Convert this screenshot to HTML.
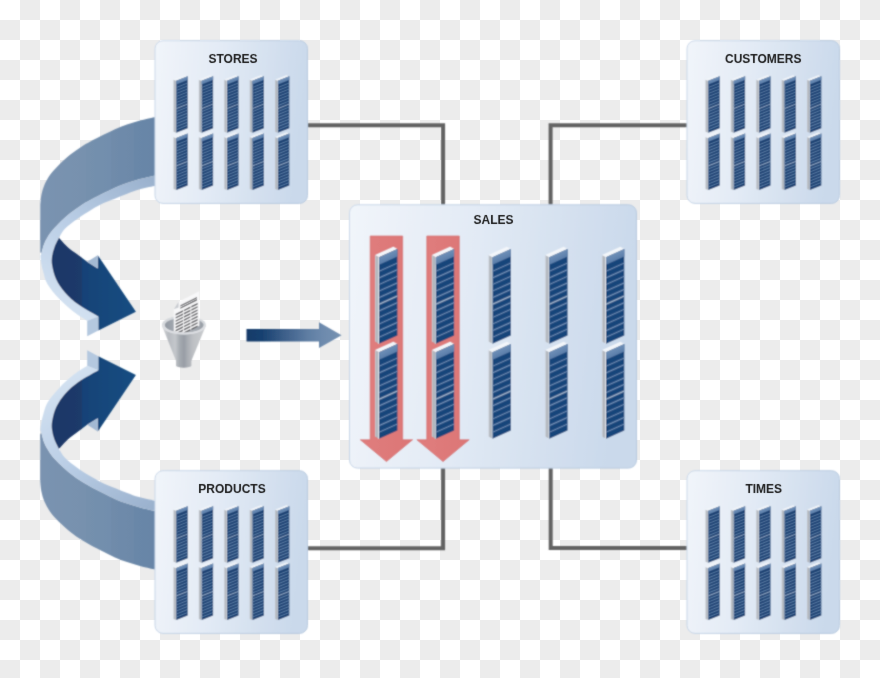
<!DOCTYPE html>
<html><head><meta charset="utf-8"><style>
html,body{margin:0;padding:0;background:#fff;overflow:hidden;}
svg{display:block;}
.lb{font-family:"Liberation Sans",sans-serif;font-weight:bold;font-size:12px;fill:#1a1a1a;}
</style></head><body>
<svg width="880" height="678" viewBox="0 0 880 678">
<defs>
<pattern id="chk" width="40" height="40" patternUnits="userSpaceOnUse">
<rect width="40" height="40" fill="#ffffff"/><rect x="20" y="0" width="20" height="20" fill="#ececec"/><rect x="0" y="20" width="20" height="20" fill="#ececec"/>
</pattern>
<linearGradient id="gBox" x1="0" y1="0" x2="1" y2="0.12"><stop offset="0" stop-color="#f1f5fa"/><stop offset="0.45" stop-color="#e2eaf5"/><stop offset="1" stop-color="#cad9eb"/></linearGradient>
<linearGradient id="gBoxS" x1="0" y1="0" x2="1" y2="0.3"><stop offset="0" stop-color="#cbd9ea"/><stop offset="1" stop-color="#b8cadf"/></linearGradient>
<linearGradient id="gRed" x1="0" y1="0" x2="1" y2="0"><stop offset="0" stop-color="#e07d7d"/><stop offset="1" stop-color="#dc7676"/></linearGradient>
<linearGradient id="gOuter" gradientUnits="userSpaceOnUse" x1="40" y1="0" x2="155" y2="0"><stop offset="0" stop-color="#7a93b0"/><stop offset="0.4035" stop-color="#7791ae"/><stop offset="0.4035" stop-color="#7490ad"/><stop offset="0.617" stop-color="#728ead"/><stop offset="0.617" stop-color="#6f8baa"/><stop offset="0.818" stop-color="#6d89a9"/><stop offset="0.818" stop-color="#6987a8"/><stop offset="1" stop-color="#6785a7"/></linearGradient>
<linearGradient id="gStrip" gradientUnits="userSpaceOnUse" x1="150" y1="180" x2="70" y2="310"><stop offset="0" stop-color="#9bb2ce"/><stop offset="0.5" stop-color="#b9cde5"/><stop offset="1" stop-color="#d2e1f1"/></linearGradient>
<linearGradient id="gDark" gradientUnits="userSpaceOnUse" x1="52" y1="0" x2="136" y2="0"><stop offset="0" stop-color="#1c3767"/><stop offset="0.355" stop-color="#1b3a6a"/><stop offset="0.36" stop-color="#134277"/><stop offset="0.7" stop-color="#13487c"/><stop offset="1" stop-color="#154d82"/></linearGradient>
<linearGradient id="gArrow" gradientUnits="userSpaceOnUse" x1="246" y1="0" x2="342" y2="0"><stop offset="0" stop-color="#163a69"/><stop offset="0.17" stop-color="#184170"/><stop offset="0.4" stop-color="#3d5f8a"/><stop offset="0.65" stop-color="#5f7ea3"/><stop offset="0.8" stop-color="#6d8aad"/><stop offset="1" stop-color="#7793b2"/></linearGradient>
<linearGradient id="gSide" x1="0" y1="0" x2="1" y2="0"><stop offset="0" stop-color="#c9cdd3"/><stop offset="0.45" stop-color="#aeb3ba"/><stop offset="1" stop-color="#a3a8b0"/></linearGradient>
<linearGradient id="gFun" gradientUnits="userSpaceOnUse" x1="162" y1="0" x2="206" y2="0"><stop offset="0" stop-color="#d3d5d8"/><stop offset="0.15" stop-color="#b7bbc0"/><stop offset="0.3" stop-color="#c4c7cb"/><stop offset="0.4" stop-color="#a6abb1"/><stop offset="0.5" stop-color="#989da5"/><stop offset="0.58" stop-color="#a9adb3"/><stop offset="0.7" stop-color="#bdc0c4"/><stop offset="1" stop-color="#cbcdd0"/></linearGradient>
<linearGradient id="gFunIn" gradientUnits="userSpaceOnUse" x1="165" y1="0" x2="204" y2="0"><stop offset="0" stop-color="#9299a2"/><stop offset="0.5" stop-color="#b4b8be"/><stop offset="1" stop-color="#979da5"/></linearGradient>
<filter id="soft" x="0" y="0" width="880" height="678" filterUnits="userSpaceOnUse"><feConvolveMatrix order="3" kernelMatrix="1 2 1 2 8 2 1 2 1" divisor="20" edgeMode="duplicate" preserveAlpha="false"/></filter>
<filter id="txt" x="0" y="0" width="880" height="678" filterUnits="userSpaceOnUse"><feConvolveMatrix order="3" kernelMatrix="0 1 0 1 16 1 0 1 0" divisor="20" edgeMode="none" preserveAlpha="false"/></filter>
<clipPath id="paperClip"><rect x="150" y="280" width="70" height="45.2"/><ellipse cx="184.2" cy="325.2" rx="19.4" ry="7.4"/></clipPath>

<linearGradient id="gCapL" x1="0" y1="0.5234" x2="0.1958" y2="0.8975"><stop offset="0" stop-color="#6f90b8"/><stop offset="1" stop-color="#5a7da9"/></linearGradient><linearGradient id="gCapS" x1="0" y1="0.5455" x2="0.1911" y2="0.8958"><stop offset="0" stop-color="#6f90b8"/><stop offset="1" stop-color="#5a7da9"/></linearGradient>
<g id="upArrow"><path d="M172.00 113.60 C170.00 113.98 163.00 115.28 160.00 115.90 C157.00 116.52 157.33 116.52 154.00 117.30 C150.67 118.08 144.50 119.38 140.00 120.60 C135.50 121.82 131.17 123.17 127.00 124.60 C122.83 126.03 118.83 127.53 115.00 129.20 C111.17 130.87 107.50 132.87 104.00 134.60 C100.50 136.33 97.63 137.65 94.00 139.60 C90.37 141.55 86.13 143.80 82.20 146.30 C78.27 148.80 74.33 151.45 70.40 154.60 C66.47 157.75 61.95 161.87 58.60 165.20 C55.25 168.53 52.67 171.30 50.30 174.60 C47.93 177.90 45.90 181.52 44.40 185.00 C42.90 188.48 42.00 192.17 41.30 195.50 C40.60 198.83 40.38 203.42 40.20 205.00 L40.2 252 L41.30 254.00 C41.82 252.25 42.90 246.98 44.40 243.50 C45.90 240.02 47.93 236.40 50.30 233.10 C52.67 229.80 55.25 227.03 58.60 223.70 C61.95 220.37 66.47 216.25 70.40 213.10 C74.33 209.95 78.27 207.30 82.20 204.80 C86.13 202.30 90.37 200.05 94.00 198.10 C97.63 196.15 100.50 194.83 104.00 193.10 C107.50 191.37 111.17 189.37 115.00 187.70 C118.83 186.03 122.83 184.53 127.00 183.10 C131.17 181.67 135.50 180.32 140.00 179.10 C144.50 177.88 150.67 176.58 154.00 175.80 C157.33 175.02 157.00 175.02 160.00 174.40 C163.00 173.78 170.00 172.48 172.00 172.10 Z" fill="url(#gOuter)"/>
<path d="M172.00 172.10 C170.00 172.48 163.00 173.78 160.00 174.40 C157.00 175.02 157.33 175.02 154.00 175.80 C150.67 176.58 144.50 177.88 140.00 179.10 C135.50 180.32 131.17 181.67 127.00 183.10 C122.83 184.53 118.83 186.03 115.00 187.70 C111.17 189.37 107.50 191.37 104.00 193.10 C100.50 194.83 97.63 196.15 94.00 198.10 C90.37 200.05 86.13 202.30 82.20 204.80 C78.27 207.30 74.33 209.95 70.40 213.10 C66.47 216.25 61.95 220.37 58.60 223.70 C55.25 227.03 52.67 229.80 50.30 233.10 C47.93 236.40 45.90 240.02 44.40 243.50 C42.90 246.98 41.97 251.92 41.30 254.00 C40.63 256.08 40.42 254.50 40.40 256.00 C40.38 257.50 40.77 260.50 41.20 263.00 C41.63 265.50 41.97 267.52 43.00 271.00 C44.03 274.48 44.70 279.28 47.40 283.90 C50.10 288.52 54.78 294.02 59.20 298.70 C63.62 303.38 69.23 308.32 73.90 312.00 C78.57 315.68 84.98 319.33 87.20 320.80 L98.3 316.4 C94.97 314.43 83.83 308.53 78.30 304.60 C72.77 300.67 68.78 296.98 65.10 292.80 C61.42 288.62 58.35 283.97 56.20 279.50 C54.05 275.03 52.90 269.82 52.20 266.00 C51.50 262.18 51.63 259.73 52.00 256.60 C52.37 253.47 53.25 250.33 54.40 247.20 C55.55 244.07 57.07 240.95 58.90 237.80 C60.73 234.65 62.35 231.45 65.40 228.30 C68.45 225.15 72.80 222.03 77.20 218.90 C81.60 215.77 87.40 212.13 91.80 209.50 C96.20 206.87 99.67 204.95 103.60 203.10 C107.53 201.25 111.47 199.97 115.40 198.40 C119.33 196.83 123.27 195.18 127.20 193.70 C131.13 192.22 134.48 190.78 139.00 189.50 C143.52 188.22 150.80 186.78 154.30 186.00 C157.80 185.22 157.05 185.47 160.00 184.80 C162.95 184.13 170.00 182.47 172.00 182.00 Z" fill="url(#gStrip)"/>
<path d="M58.90 237.80 C60.38 239.37 64.75 244.45 67.80 247.20 C70.85 249.95 73.97 251.87 77.20 254.30 C80.43 256.73 85.53 260.55 87.20 261.80 L97.8 268.4 L97.8 255.2 L135.9 311.7 L98.3 330.4 L98.3 316.4 C94.97 314.43 83.83 308.53 78.30 304.60 C72.77 300.67 68.78 296.98 65.10 292.80 C61.42 288.62 58.35 283.97 56.20 279.50 C54.05 275.03 52.90 269.82 52.20 266.00 C51.50 262.18 51.63 259.73 52.00 256.60 C52.37 253.47 53.25 250.33 54.40 247.20 C55.55 244.07 58.15 239.37 58.90 237.80 Z" fill="url(#gDark)"/>
<path d="M87.2 261.8 L97.8 255.2 L97.8 268.4 Z" fill="#a3b9d3"/>
<path d="M87.2 320.8 L98.3 316.4 L98.3 330.4 L87.2 336.3 Z" fill="#b4c8df"/></g>
</defs>
<rect width="880" height="678" fill="url(#chk)"/>
<g filter="url(#soft)">
<path d="M300 125.3 H443.1 V210" fill="none" stroke="#636363" stroke-width="4"/>
<path d="M690 125.3 H550.6 V210" fill="none" stroke="#636363" stroke-width="4"/>
<path d="M300 548.3 H443.1 V460" fill="none" stroke="#636363" stroke-width="4"/>
<path d="M690 548.1 H550.7 V460" fill="none" stroke="#636363" stroke-width="4"/>
<use href="#upArrow"/>
<use href="#upArrow" transform="translate(0 686.6) scale(1 -1)"/>
<rect x="155.00" y="40.70" width="152.50" height="162.70" rx="8" ry="8" fill="url(#gBox)" stroke="url(#gBoxS)" stroke-width="1"/>
<path d="M176.30 80.70 L173.40 79.70 L173.40 131.70 L176.30 132.70 Z" fill="url(#gSide)"/>
<path d="M176.30 80.70 L187.70 76.14 L184.80 75.14 L173.40 79.70 Z" fill="#f3f6fa"/>
<rect x="175.70" y="80.70" width="0.60" height="52.00" fill="#eef2f7"/>
<path d="M176.30 80.70 L187.70 76.14 L187.70 128.14 L176.30 132.70 Z" fill="#173d6f"/>
<path d="M176.30 80.70 L187.70 76.14 L187.70 79.94 L176.30 84.50 Z" fill="url(#gCapS)"/>
<path d="M176.30 86.96 L187.70 82.40 L187.70 83.50 L176.30 88.06 Z M176.30 89.97 L187.70 85.41 L187.70 86.52 L176.30 91.08 Z M176.30 92.99 L187.70 88.43 L187.70 89.53 L176.30 94.09 Z M176.30 96.00 L187.70 91.44 L187.70 92.54 L176.30 97.10 Z M176.30 99.01 L187.70 94.45 L187.70 95.55 L176.30 100.11 Z M176.30 102.03 L187.70 97.47 L187.70 98.56 L176.30 103.12 Z M176.30 105.04 L187.70 100.48 L187.70 101.58 L176.30 106.14 Z M176.30 111.06 L187.70 106.50 L187.70 107.60 L176.30 112.16 Z M176.30 114.08 L187.70 109.52 L187.70 110.61 L176.30 115.17 Z M176.30 117.09 L187.70 112.53 L187.70 113.63 L176.30 118.19 Z M176.30 120.10 L187.70 115.54 L187.70 116.64 L176.30 121.20 Z M176.30 123.11 L187.70 118.55 L187.70 119.65 L176.30 124.21 Z M176.30 126.12 L187.70 121.56 L187.70 122.66 L176.30 127.22 Z M176.30 129.14 L187.70 124.58 L187.70 125.68 L176.30 130.24 Z" fill="#5e80a8"/>
<path d="M176.30 108.05 L187.70 103.49 L187.70 104.59 L176.30 109.15 Z" fill="#8ea5c2"/>
<path d="M176.30 138.00 L173.40 137.00 L173.40 189.00 L176.30 190.00 Z" fill="url(#gSide)"/>
<path d="M176.30 138.00 L187.70 133.44 L184.80 132.44 L173.40 137.00 Z" fill="#f3f6fa"/>
<rect x="175.70" y="138.00" width="0.60" height="52.00" fill="#eef2f7"/>
<path d="M176.30 138.00 L187.70 133.44 L187.70 185.44 L176.30 190.00 Z" fill="#173d6f"/>
<path d="M176.30 138.00 L187.70 133.44 L187.70 137.24 L176.30 141.80 Z" fill="url(#gCapS)"/>
<path d="M176.30 144.26 L187.70 139.70 L187.70 140.80 L176.30 145.36 Z M176.30 147.28 L187.70 142.72 L187.70 143.81 L176.30 148.38 Z M176.30 150.29 L187.70 145.73 L187.70 146.83 L176.30 151.39 Z M176.30 153.30 L187.70 148.74 L187.70 149.84 L176.30 154.40 Z M176.30 156.31 L187.70 151.75 L187.70 152.85 L176.30 157.41 Z M176.30 159.32 L187.70 154.76 L187.70 155.87 L176.30 160.43 Z M176.30 162.34 L187.70 157.78 L187.70 158.88 L176.30 163.44 Z M176.30 168.36 L187.70 163.80 L187.70 164.90 L176.30 169.46 Z M176.30 171.38 L187.70 166.81 L187.70 167.91 L176.30 172.47 Z M176.30 174.39 L187.70 169.83 L187.70 170.93 L176.30 175.49 Z M176.30 177.40 L187.70 172.84 L187.70 173.94 L176.30 178.50 Z M176.30 180.41 L187.70 175.85 L187.70 176.95 L176.30 181.51 Z M176.30 183.43 L187.70 178.87 L187.70 179.97 L176.30 184.53 Z M176.30 186.44 L187.70 181.88 L187.70 182.98 L176.30 187.54 Z" fill="#5e80a8"/>
<path d="M176.30 165.35 L187.70 160.79 L187.70 161.89 L176.30 166.45 Z" fill="#8ea5c2"/>
<path d="M201.70 80.70 L198.80 79.70 L198.80 131.70 L201.70 132.70 Z" fill="url(#gSide)"/>
<path d="M201.70 80.70 L213.10 76.14 L210.20 75.14 L198.80 79.70 Z" fill="#f3f6fa"/>
<rect x="201.10" y="80.70" width="0.60" height="52.00" fill="#eef2f7"/>
<path d="M201.70 80.70 L213.10 76.14 L213.10 128.14 L201.70 132.70 Z" fill="#173d6f"/>
<path d="M201.70 80.70 L213.10 76.14 L213.10 79.94 L201.70 84.50 Z" fill="url(#gCapS)"/>
<path d="M201.70 86.96 L213.10 82.40 L213.10 83.50 L201.70 88.06 Z M201.70 89.97 L213.10 85.41 L213.10 86.52 L201.70 91.08 Z M201.70 92.99 L213.10 88.43 L213.10 89.53 L201.70 94.09 Z M201.70 96.00 L213.10 91.44 L213.10 92.54 L201.70 97.10 Z M201.70 99.01 L213.10 94.45 L213.10 95.55 L201.70 100.11 Z M201.70 102.03 L213.10 97.47 L213.10 98.56 L201.70 103.12 Z M201.70 105.04 L213.10 100.48 L213.10 101.58 L201.70 106.14 Z M201.70 111.06 L213.10 106.50 L213.10 107.60 L201.70 112.16 Z M201.70 114.08 L213.10 109.52 L213.10 110.61 L201.70 115.17 Z M201.70 117.09 L213.10 112.53 L213.10 113.63 L201.70 118.19 Z M201.70 120.10 L213.10 115.54 L213.10 116.64 L201.70 121.20 Z M201.70 123.11 L213.10 118.55 L213.10 119.65 L201.70 124.21 Z M201.70 126.12 L213.10 121.56 L213.10 122.66 L201.70 127.22 Z M201.70 129.14 L213.10 124.58 L213.10 125.68 L201.70 130.24 Z" fill="#5e80a8"/>
<path d="M201.70 108.05 L213.10 103.49 L213.10 104.59 L201.70 109.15 Z" fill="#8ea5c2"/>
<path d="M201.70 138.00 L198.80 137.00 L198.80 189.00 L201.70 190.00 Z" fill="url(#gSide)"/>
<path d="M201.70 138.00 L213.10 133.44 L210.20 132.44 L198.80 137.00 Z" fill="#f3f6fa"/>
<rect x="201.10" y="138.00" width="0.60" height="52.00" fill="#eef2f7"/>
<path d="M201.70 138.00 L213.10 133.44 L213.10 185.44 L201.70 190.00 Z" fill="#173d6f"/>
<path d="M201.70 138.00 L213.10 133.44 L213.10 137.24 L201.70 141.80 Z" fill="url(#gCapS)"/>
<path d="M201.70 144.26 L213.10 139.70 L213.10 140.80 L201.70 145.36 Z M201.70 147.28 L213.10 142.72 L213.10 143.81 L201.70 148.38 Z M201.70 150.29 L213.10 145.73 L213.10 146.83 L201.70 151.39 Z M201.70 153.30 L213.10 148.74 L213.10 149.84 L201.70 154.40 Z M201.70 156.31 L213.10 151.75 L213.10 152.85 L201.70 157.41 Z M201.70 159.32 L213.10 154.76 L213.10 155.87 L201.70 160.43 Z M201.70 162.34 L213.10 157.78 L213.10 158.88 L201.70 163.44 Z M201.70 168.36 L213.10 163.80 L213.10 164.90 L201.70 169.46 Z M201.70 171.38 L213.10 166.81 L213.10 167.91 L201.70 172.47 Z M201.70 174.39 L213.10 169.83 L213.10 170.93 L201.70 175.49 Z M201.70 177.40 L213.10 172.84 L213.10 173.94 L201.70 178.50 Z M201.70 180.41 L213.10 175.85 L213.10 176.95 L201.70 181.51 Z M201.70 183.43 L213.10 178.87 L213.10 179.97 L201.70 184.53 Z M201.70 186.44 L213.10 181.88 L213.10 182.98 L201.70 187.54 Z" fill="#5e80a8"/>
<path d="M201.70 165.35 L213.10 160.79 L213.10 161.89 L201.70 166.45 Z" fill="#8ea5c2"/>
<path d="M227.10 80.70 L224.20 79.70 L224.20 131.70 L227.10 132.70 Z" fill="url(#gSide)"/>
<path d="M227.10 80.70 L238.50 76.14 L235.60 75.14 L224.20 79.70 Z" fill="#f3f6fa"/>
<rect x="226.50" y="80.70" width="0.60" height="52.00" fill="#eef2f7"/>
<path d="M227.10 80.70 L238.50 76.14 L238.50 128.14 L227.10 132.70 Z" fill="#173d6f"/>
<path d="M227.10 80.70 L238.50 76.14 L238.50 79.94 L227.10 84.50 Z" fill="url(#gCapS)"/>
<path d="M227.10 86.96 L238.50 82.40 L238.50 83.50 L227.10 88.06 Z M227.10 89.97 L238.50 85.41 L238.50 86.52 L227.10 91.08 Z M227.10 92.99 L238.50 88.43 L238.50 89.53 L227.10 94.09 Z M227.10 96.00 L238.50 91.44 L238.50 92.54 L227.10 97.10 Z M227.10 99.01 L238.50 94.45 L238.50 95.55 L227.10 100.11 Z M227.10 102.03 L238.50 97.47 L238.50 98.56 L227.10 103.12 Z M227.10 105.04 L238.50 100.48 L238.50 101.58 L227.10 106.14 Z M227.10 111.06 L238.50 106.50 L238.50 107.60 L227.10 112.16 Z M227.10 114.08 L238.50 109.52 L238.50 110.61 L227.10 115.17 Z M227.10 117.09 L238.50 112.53 L238.50 113.63 L227.10 118.19 Z M227.10 120.10 L238.50 115.54 L238.50 116.64 L227.10 121.20 Z M227.10 123.11 L238.50 118.55 L238.50 119.65 L227.10 124.21 Z M227.10 126.12 L238.50 121.56 L238.50 122.66 L227.10 127.22 Z M227.10 129.14 L238.50 124.58 L238.50 125.68 L227.10 130.24 Z" fill="#5e80a8"/>
<path d="M227.10 108.05 L238.50 103.49 L238.50 104.59 L227.10 109.15 Z" fill="#8ea5c2"/>
<path d="M227.10 138.00 L224.20 137.00 L224.20 189.00 L227.10 190.00 Z" fill="url(#gSide)"/>
<path d="M227.10 138.00 L238.50 133.44 L235.60 132.44 L224.20 137.00 Z" fill="#f3f6fa"/>
<rect x="226.50" y="138.00" width="0.60" height="52.00" fill="#eef2f7"/>
<path d="M227.10 138.00 L238.50 133.44 L238.50 185.44 L227.10 190.00 Z" fill="#173d6f"/>
<path d="M227.10 138.00 L238.50 133.44 L238.50 137.24 L227.10 141.80 Z" fill="url(#gCapS)"/>
<path d="M227.10 144.26 L238.50 139.70 L238.50 140.80 L227.10 145.36 Z M227.10 147.28 L238.50 142.72 L238.50 143.81 L227.10 148.38 Z M227.10 150.29 L238.50 145.73 L238.50 146.83 L227.10 151.39 Z M227.10 153.30 L238.50 148.74 L238.50 149.84 L227.10 154.40 Z M227.10 156.31 L238.50 151.75 L238.50 152.85 L227.10 157.41 Z M227.10 159.32 L238.50 154.76 L238.50 155.87 L227.10 160.43 Z M227.10 162.34 L238.50 157.78 L238.50 158.88 L227.10 163.44 Z M227.10 168.36 L238.50 163.80 L238.50 164.90 L227.10 169.46 Z M227.10 171.38 L238.50 166.81 L238.50 167.91 L227.10 172.47 Z M227.10 174.39 L238.50 169.83 L238.50 170.93 L227.10 175.49 Z M227.10 177.40 L238.50 172.84 L238.50 173.94 L227.10 178.50 Z M227.10 180.41 L238.50 175.85 L238.50 176.95 L227.10 181.51 Z M227.10 183.43 L238.50 178.87 L238.50 179.97 L227.10 184.53 Z M227.10 186.44 L238.50 181.88 L238.50 182.98 L227.10 187.54 Z" fill="#5e80a8"/>
<path d="M227.10 165.35 L238.50 160.79 L238.50 161.89 L227.10 166.45 Z" fill="#8ea5c2"/>
<path d="M252.50 80.70 L249.60 79.70 L249.60 131.70 L252.50 132.70 Z" fill="url(#gSide)"/>
<path d="M252.50 80.70 L263.90 76.14 L261.00 75.14 L249.60 79.70 Z" fill="#f3f6fa"/>
<rect x="251.90" y="80.70" width="0.60" height="52.00" fill="#eef2f7"/>
<path d="M252.50 80.70 L263.90 76.14 L263.90 128.14 L252.50 132.70 Z" fill="#173d6f"/>
<path d="M252.50 80.70 L263.90 76.14 L263.90 79.94 L252.50 84.50 Z" fill="url(#gCapS)"/>
<path d="M252.50 86.96 L263.90 82.40 L263.90 83.50 L252.50 88.06 Z M252.50 89.97 L263.90 85.41 L263.90 86.52 L252.50 91.08 Z M252.50 92.99 L263.90 88.43 L263.90 89.53 L252.50 94.09 Z M252.50 96.00 L263.90 91.44 L263.90 92.54 L252.50 97.10 Z M252.50 99.01 L263.90 94.45 L263.90 95.55 L252.50 100.11 Z M252.50 102.03 L263.90 97.47 L263.90 98.56 L252.50 103.12 Z M252.50 105.04 L263.90 100.48 L263.90 101.58 L252.50 106.14 Z M252.50 111.06 L263.90 106.50 L263.90 107.60 L252.50 112.16 Z M252.50 114.08 L263.90 109.52 L263.90 110.61 L252.50 115.17 Z M252.50 117.09 L263.90 112.53 L263.90 113.63 L252.50 118.19 Z M252.50 120.10 L263.90 115.54 L263.90 116.64 L252.50 121.20 Z M252.50 123.11 L263.90 118.55 L263.90 119.65 L252.50 124.21 Z M252.50 126.12 L263.90 121.56 L263.90 122.66 L252.50 127.22 Z M252.50 129.14 L263.90 124.58 L263.90 125.68 L252.50 130.24 Z" fill="#5e80a8"/>
<path d="M252.50 108.05 L263.90 103.49 L263.90 104.59 L252.50 109.15 Z" fill="#8ea5c2"/>
<path d="M252.50 138.00 L249.60 137.00 L249.60 189.00 L252.50 190.00 Z" fill="url(#gSide)"/>
<path d="M252.50 138.00 L263.90 133.44 L261.00 132.44 L249.60 137.00 Z" fill="#f3f6fa"/>
<rect x="251.90" y="138.00" width="0.60" height="52.00" fill="#eef2f7"/>
<path d="M252.50 138.00 L263.90 133.44 L263.90 185.44 L252.50 190.00 Z" fill="#173d6f"/>
<path d="M252.50 138.00 L263.90 133.44 L263.90 137.24 L252.50 141.80 Z" fill="url(#gCapS)"/>
<path d="M252.50 144.26 L263.90 139.70 L263.90 140.80 L252.50 145.36 Z M252.50 147.28 L263.90 142.72 L263.90 143.81 L252.50 148.38 Z M252.50 150.29 L263.90 145.73 L263.90 146.83 L252.50 151.39 Z M252.50 153.30 L263.90 148.74 L263.90 149.84 L252.50 154.40 Z M252.50 156.31 L263.90 151.75 L263.90 152.85 L252.50 157.41 Z M252.50 159.32 L263.90 154.76 L263.90 155.87 L252.50 160.43 Z M252.50 162.34 L263.90 157.78 L263.90 158.88 L252.50 163.44 Z M252.50 168.36 L263.90 163.80 L263.90 164.90 L252.50 169.46 Z M252.50 171.38 L263.90 166.81 L263.90 167.91 L252.50 172.47 Z M252.50 174.39 L263.90 169.83 L263.90 170.93 L252.50 175.49 Z M252.50 177.40 L263.90 172.84 L263.90 173.94 L252.50 178.50 Z M252.50 180.41 L263.90 175.85 L263.90 176.95 L252.50 181.51 Z M252.50 183.43 L263.90 178.87 L263.90 179.97 L252.50 184.53 Z M252.50 186.44 L263.90 181.88 L263.90 182.98 L252.50 187.54 Z" fill="#5e80a8"/>
<path d="M252.50 165.35 L263.90 160.79 L263.90 161.89 L252.50 166.45 Z" fill="#8ea5c2"/>
<path d="M277.90 80.70 L275.00 79.70 L275.00 131.70 L277.90 132.70 Z" fill="url(#gSide)"/>
<path d="M277.90 80.70 L289.30 76.14 L286.40 75.14 L275.00 79.70 Z" fill="#f3f6fa"/>
<rect x="277.30" y="80.70" width="0.60" height="52.00" fill="#eef2f7"/>
<path d="M277.90 80.70 L289.30 76.14 L289.30 128.14 L277.90 132.70 Z" fill="#173d6f"/>
<path d="M277.90 80.70 L289.30 76.14 L289.30 79.94 L277.90 84.50 Z" fill="url(#gCapS)"/>
<path d="M277.90 86.96 L289.30 82.40 L289.30 83.50 L277.90 88.06 Z M277.90 89.97 L289.30 85.41 L289.30 86.52 L277.90 91.08 Z M277.90 92.99 L289.30 88.43 L289.30 89.53 L277.90 94.09 Z M277.90 96.00 L289.30 91.44 L289.30 92.54 L277.90 97.10 Z M277.90 99.01 L289.30 94.45 L289.30 95.55 L277.90 100.11 Z M277.90 102.03 L289.30 97.47 L289.30 98.56 L277.90 103.12 Z M277.90 105.04 L289.30 100.48 L289.30 101.58 L277.90 106.14 Z M277.90 111.06 L289.30 106.50 L289.30 107.60 L277.90 112.16 Z M277.90 114.08 L289.30 109.52 L289.30 110.61 L277.90 115.17 Z M277.90 117.09 L289.30 112.53 L289.30 113.63 L277.90 118.19 Z M277.90 120.10 L289.30 115.54 L289.30 116.64 L277.90 121.20 Z M277.90 123.11 L289.30 118.55 L289.30 119.65 L277.90 124.21 Z M277.90 126.12 L289.30 121.56 L289.30 122.66 L277.90 127.22 Z M277.90 129.14 L289.30 124.58 L289.30 125.68 L277.90 130.24 Z" fill="#5e80a8"/>
<path d="M277.90 108.05 L289.30 103.49 L289.30 104.59 L277.90 109.15 Z" fill="#8ea5c2"/>
<path d="M277.90 138.00 L275.00 137.00 L275.00 189.00 L277.90 190.00 Z" fill="url(#gSide)"/>
<path d="M277.90 138.00 L289.30 133.44 L286.40 132.44 L275.00 137.00 Z" fill="#f3f6fa"/>
<rect x="277.30" y="138.00" width="0.60" height="52.00" fill="#eef2f7"/>
<path d="M277.90 138.00 L289.30 133.44 L289.30 185.44 L277.90 190.00 Z" fill="#173d6f"/>
<path d="M277.90 138.00 L289.30 133.44 L289.30 137.24 L277.90 141.80 Z" fill="url(#gCapS)"/>
<path d="M277.90 144.26 L289.30 139.70 L289.30 140.80 L277.90 145.36 Z M277.90 147.28 L289.30 142.72 L289.30 143.81 L277.90 148.38 Z M277.90 150.29 L289.30 145.73 L289.30 146.83 L277.90 151.39 Z M277.90 153.30 L289.30 148.74 L289.30 149.84 L277.90 154.40 Z M277.90 156.31 L289.30 151.75 L289.30 152.85 L277.90 157.41 Z M277.90 159.32 L289.30 154.76 L289.30 155.87 L277.90 160.43 Z M277.90 162.34 L289.30 157.78 L289.30 158.88 L277.90 163.44 Z M277.90 168.36 L289.30 163.80 L289.30 164.90 L277.90 169.46 Z M277.90 171.38 L289.30 166.81 L289.30 167.91 L277.90 172.47 Z M277.90 174.39 L289.30 169.83 L289.30 170.93 L277.90 175.49 Z M277.90 177.40 L289.30 172.84 L289.30 173.94 L277.90 178.50 Z M277.90 180.41 L289.30 175.85 L289.30 176.95 L277.90 181.51 Z M277.90 183.43 L289.30 178.87 L289.30 179.97 L277.90 184.53 Z M277.90 186.44 L289.30 181.88 L289.30 182.98 L277.90 187.54 Z" fill="#5e80a8"/>
<path d="M277.90 165.35 L289.30 160.79 L289.30 161.89 L277.90 166.45 Z" fill="#8ea5c2"/>
<rect x="687.00" y="40.70" width="152.50" height="162.70" rx="8" ry="8" fill="url(#gBox)" stroke="url(#gBoxS)" stroke-width="1"/>
<path d="M708.30 80.70 L705.40 79.70 L705.40 131.70 L708.30 132.70 Z" fill="url(#gSide)"/>
<path d="M708.30 80.70 L719.70 76.14 L716.80 75.14 L705.40 79.70 Z" fill="#f3f6fa"/>
<rect x="707.70" y="80.70" width="0.60" height="52.00" fill="#eef2f7"/>
<path d="M708.30 80.70 L719.70 76.14 L719.70 128.14 L708.30 132.70 Z" fill="#173d6f"/>
<path d="M708.30 80.70 L719.70 76.14 L719.70 79.94 L708.30 84.50 Z" fill="url(#gCapS)"/>
<path d="M708.30 86.96 L719.70 82.40 L719.70 83.50 L708.30 88.06 Z M708.30 89.97 L719.70 85.41 L719.70 86.52 L708.30 91.08 Z M708.30 92.99 L719.70 88.43 L719.70 89.53 L708.30 94.09 Z M708.30 96.00 L719.70 91.44 L719.70 92.54 L708.30 97.10 Z M708.30 99.01 L719.70 94.45 L719.70 95.55 L708.30 100.11 Z M708.30 102.03 L719.70 97.47 L719.70 98.56 L708.30 103.12 Z M708.30 105.04 L719.70 100.48 L719.70 101.58 L708.30 106.14 Z M708.30 111.06 L719.70 106.50 L719.70 107.60 L708.30 112.16 Z M708.30 114.08 L719.70 109.52 L719.70 110.61 L708.30 115.17 Z M708.30 117.09 L719.70 112.53 L719.70 113.63 L708.30 118.19 Z M708.30 120.10 L719.70 115.54 L719.70 116.64 L708.30 121.20 Z M708.30 123.11 L719.70 118.55 L719.70 119.65 L708.30 124.21 Z M708.30 126.12 L719.70 121.56 L719.70 122.66 L708.30 127.22 Z M708.30 129.14 L719.70 124.58 L719.70 125.68 L708.30 130.24 Z" fill="#5e80a8"/>
<path d="M708.30 108.05 L719.70 103.49 L719.70 104.59 L708.30 109.15 Z" fill="#8ea5c2"/>
<path d="M708.30 138.00 L705.40 137.00 L705.40 189.00 L708.30 190.00 Z" fill="url(#gSide)"/>
<path d="M708.30 138.00 L719.70 133.44 L716.80 132.44 L705.40 137.00 Z" fill="#f3f6fa"/>
<rect x="707.70" y="138.00" width="0.60" height="52.00" fill="#eef2f7"/>
<path d="M708.30 138.00 L719.70 133.44 L719.70 185.44 L708.30 190.00 Z" fill="#173d6f"/>
<path d="M708.30 138.00 L719.70 133.44 L719.70 137.24 L708.30 141.80 Z" fill="url(#gCapS)"/>
<path d="M708.30 144.26 L719.70 139.70 L719.70 140.80 L708.30 145.36 Z M708.30 147.28 L719.70 142.72 L719.70 143.81 L708.30 148.38 Z M708.30 150.29 L719.70 145.73 L719.70 146.83 L708.30 151.39 Z M708.30 153.30 L719.70 148.74 L719.70 149.84 L708.30 154.40 Z M708.30 156.31 L719.70 151.75 L719.70 152.85 L708.30 157.41 Z M708.30 159.32 L719.70 154.76 L719.70 155.87 L708.30 160.43 Z M708.30 162.34 L719.70 157.78 L719.70 158.88 L708.30 163.44 Z M708.30 168.36 L719.70 163.80 L719.70 164.90 L708.30 169.46 Z M708.30 171.38 L719.70 166.81 L719.70 167.91 L708.30 172.47 Z M708.30 174.39 L719.70 169.83 L719.70 170.93 L708.30 175.49 Z M708.30 177.40 L719.70 172.84 L719.70 173.94 L708.30 178.50 Z M708.30 180.41 L719.70 175.85 L719.70 176.95 L708.30 181.51 Z M708.30 183.43 L719.70 178.87 L719.70 179.97 L708.30 184.53 Z M708.30 186.44 L719.70 181.88 L719.70 182.98 L708.30 187.54 Z" fill="#5e80a8"/>
<path d="M708.30 165.35 L719.70 160.79 L719.70 161.89 L708.30 166.45 Z" fill="#8ea5c2"/>
<path d="M733.70 80.70 L730.80 79.70 L730.80 131.70 L733.70 132.70 Z" fill="url(#gSide)"/>
<path d="M733.70 80.70 L745.10 76.14 L742.20 75.14 L730.80 79.70 Z" fill="#f3f6fa"/>
<rect x="733.10" y="80.70" width="0.60" height="52.00" fill="#eef2f7"/>
<path d="M733.70 80.70 L745.10 76.14 L745.10 128.14 L733.70 132.70 Z" fill="#173d6f"/>
<path d="M733.70 80.70 L745.10 76.14 L745.10 79.94 L733.70 84.50 Z" fill="url(#gCapS)"/>
<path d="M733.70 86.96 L745.10 82.40 L745.10 83.50 L733.70 88.06 Z M733.70 89.97 L745.10 85.41 L745.10 86.52 L733.70 91.08 Z M733.70 92.99 L745.10 88.43 L745.10 89.53 L733.70 94.09 Z M733.70 96.00 L745.10 91.44 L745.10 92.54 L733.70 97.10 Z M733.70 99.01 L745.10 94.45 L745.10 95.55 L733.70 100.11 Z M733.70 102.03 L745.10 97.47 L745.10 98.56 L733.70 103.12 Z M733.70 105.04 L745.10 100.48 L745.10 101.58 L733.70 106.14 Z M733.70 111.06 L745.10 106.50 L745.10 107.60 L733.70 112.16 Z M733.70 114.08 L745.10 109.52 L745.10 110.61 L733.70 115.17 Z M733.70 117.09 L745.10 112.53 L745.10 113.63 L733.70 118.19 Z M733.70 120.10 L745.10 115.54 L745.10 116.64 L733.70 121.20 Z M733.70 123.11 L745.10 118.55 L745.10 119.65 L733.70 124.21 Z M733.70 126.12 L745.10 121.56 L745.10 122.66 L733.70 127.22 Z M733.70 129.14 L745.10 124.58 L745.10 125.68 L733.70 130.24 Z" fill="#5e80a8"/>
<path d="M733.70 108.05 L745.10 103.49 L745.10 104.59 L733.70 109.15 Z" fill="#8ea5c2"/>
<path d="M733.70 138.00 L730.80 137.00 L730.80 189.00 L733.70 190.00 Z" fill="url(#gSide)"/>
<path d="M733.70 138.00 L745.10 133.44 L742.20 132.44 L730.80 137.00 Z" fill="#f3f6fa"/>
<rect x="733.10" y="138.00" width="0.60" height="52.00" fill="#eef2f7"/>
<path d="M733.70 138.00 L745.10 133.44 L745.10 185.44 L733.70 190.00 Z" fill="#173d6f"/>
<path d="M733.70 138.00 L745.10 133.44 L745.10 137.24 L733.70 141.80 Z" fill="url(#gCapS)"/>
<path d="M733.70 144.26 L745.10 139.70 L745.10 140.80 L733.70 145.36 Z M733.70 147.28 L745.10 142.72 L745.10 143.81 L733.70 148.38 Z M733.70 150.29 L745.10 145.73 L745.10 146.83 L733.70 151.39 Z M733.70 153.30 L745.10 148.74 L745.10 149.84 L733.70 154.40 Z M733.70 156.31 L745.10 151.75 L745.10 152.85 L733.70 157.41 Z M733.70 159.32 L745.10 154.76 L745.10 155.87 L733.70 160.43 Z M733.70 162.34 L745.10 157.78 L745.10 158.88 L733.70 163.44 Z M733.70 168.36 L745.10 163.80 L745.10 164.90 L733.70 169.46 Z M733.70 171.38 L745.10 166.81 L745.10 167.91 L733.70 172.47 Z M733.70 174.39 L745.10 169.83 L745.10 170.93 L733.70 175.49 Z M733.70 177.40 L745.10 172.84 L745.10 173.94 L733.70 178.50 Z M733.70 180.41 L745.10 175.85 L745.10 176.95 L733.70 181.51 Z M733.70 183.43 L745.10 178.87 L745.10 179.97 L733.70 184.53 Z M733.70 186.44 L745.10 181.88 L745.10 182.98 L733.70 187.54 Z" fill="#5e80a8"/>
<path d="M733.70 165.35 L745.10 160.79 L745.10 161.89 L733.70 166.45 Z" fill="#8ea5c2"/>
<path d="M759.10 80.70 L756.20 79.70 L756.20 131.70 L759.10 132.70 Z" fill="url(#gSide)"/>
<path d="M759.10 80.70 L770.50 76.14 L767.60 75.14 L756.20 79.70 Z" fill="#f3f6fa"/>
<rect x="758.50" y="80.70" width="0.60" height="52.00" fill="#eef2f7"/>
<path d="M759.10 80.70 L770.50 76.14 L770.50 128.14 L759.10 132.70 Z" fill="#173d6f"/>
<path d="M759.10 80.70 L770.50 76.14 L770.50 79.94 L759.10 84.50 Z" fill="url(#gCapS)"/>
<path d="M759.10 86.96 L770.50 82.40 L770.50 83.50 L759.10 88.06 Z M759.10 89.97 L770.50 85.41 L770.50 86.52 L759.10 91.08 Z M759.10 92.99 L770.50 88.43 L770.50 89.53 L759.10 94.09 Z M759.10 96.00 L770.50 91.44 L770.50 92.54 L759.10 97.10 Z M759.10 99.01 L770.50 94.45 L770.50 95.55 L759.10 100.11 Z M759.10 102.03 L770.50 97.47 L770.50 98.56 L759.10 103.12 Z M759.10 105.04 L770.50 100.48 L770.50 101.58 L759.10 106.14 Z M759.10 111.06 L770.50 106.50 L770.50 107.60 L759.10 112.16 Z M759.10 114.08 L770.50 109.52 L770.50 110.61 L759.10 115.17 Z M759.10 117.09 L770.50 112.53 L770.50 113.63 L759.10 118.19 Z M759.10 120.10 L770.50 115.54 L770.50 116.64 L759.10 121.20 Z M759.10 123.11 L770.50 118.55 L770.50 119.65 L759.10 124.21 Z M759.10 126.12 L770.50 121.56 L770.50 122.66 L759.10 127.22 Z M759.10 129.14 L770.50 124.58 L770.50 125.68 L759.10 130.24 Z" fill="#5e80a8"/>
<path d="M759.10 108.05 L770.50 103.49 L770.50 104.59 L759.10 109.15 Z" fill="#8ea5c2"/>
<path d="M759.10 138.00 L756.20 137.00 L756.20 189.00 L759.10 190.00 Z" fill="url(#gSide)"/>
<path d="M759.10 138.00 L770.50 133.44 L767.60 132.44 L756.20 137.00 Z" fill="#f3f6fa"/>
<rect x="758.50" y="138.00" width="0.60" height="52.00" fill="#eef2f7"/>
<path d="M759.10 138.00 L770.50 133.44 L770.50 185.44 L759.10 190.00 Z" fill="#173d6f"/>
<path d="M759.10 138.00 L770.50 133.44 L770.50 137.24 L759.10 141.80 Z" fill="url(#gCapS)"/>
<path d="M759.10 144.26 L770.50 139.70 L770.50 140.80 L759.10 145.36 Z M759.10 147.28 L770.50 142.72 L770.50 143.81 L759.10 148.38 Z M759.10 150.29 L770.50 145.73 L770.50 146.83 L759.10 151.39 Z M759.10 153.30 L770.50 148.74 L770.50 149.84 L759.10 154.40 Z M759.10 156.31 L770.50 151.75 L770.50 152.85 L759.10 157.41 Z M759.10 159.32 L770.50 154.76 L770.50 155.87 L759.10 160.43 Z M759.10 162.34 L770.50 157.78 L770.50 158.88 L759.10 163.44 Z M759.10 168.36 L770.50 163.80 L770.50 164.90 L759.10 169.46 Z M759.10 171.38 L770.50 166.81 L770.50 167.91 L759.10 172.47 Z M759.10 174.39 L770.50 169.83 L770.50 170.93 L759.10 175.49 Z M759.10 177.40 L770.50 172.84 L770.50 173.94 L759.10 178.50 Z M759.10 180.41 L770.50 175.85 L770.50 176.95 L759.10 181.51 Z M759.10 183.43 L770.50 178.87 L770.50 179.97 L759.10 184.53 Z M759.10 186.44 L770.50 181.88 L770.50 182.98 L759.10 187.54 Z" fill="#5e80a8"/>
<path d="M759.10 165.35 L770.50 160.79 L770.50 161.89 L759.10 166.45 Z" fill="#8ea5c2"/>
<path d="M784.50 80.70 L781.60 79.70 L781.60 131.70 L784.50 132.70 Z" fill="url(#gSide)"/>
<path d="M784.50 80.70 L795.90 76.14 L793.00 75.14 L781.60 79.70 Z" fill="#f3f6fa"/>
<rect x="783.90" y="80.70" width="0.60" height="52.00" fill="#eef2f7"/>
<path d="M784.50 80.70 L795.90 76.14 L795.90 128.14 L784.50 132.70 Z" fill="#173d6f"/>
<path d="M784.50 80.70 L795.90 76.14 L795.90 79.94 L784.50 84.50 Z" fill="url(#gCapS)"/>
<path d="M784.50 86.96 L795.90 82.40 L795.90 83.50 L784.50 88.06 Z M784.50 89.97 L795.90 85.41 L795.90 86.52 L784.50 91.08 Z M784.50 92.99 L795.90 88.43 L795.90 89.53 L784.50 94.09 Z M784.50 96.00 L795.90 91.44 L795.90 92.54 L784.50 97.10 Z M784.50 99.01 L795.90 94.45 L795.90 95.55 L784.50 100.11 Z M784.50 102.03 L795.90 97.47 L795.90 98.56 L784.50 103.12 Z M784.50 105.04 L795.90 100.48 L795.90 101.58 L784.50 106.14 Z M784.50 111.06 L795.90 106.50 L795.90 107.60 L784.50 112.16 Z M784.50 114.08 L795.90 109.52 L795.90 110.61 L784.50 115.17 Z M784.50 117.09 L795.90 112.53 L795.90 113.63 L784.50 118.19 Z M784.50 120.10 L795.90 115.54 L795.90 116.64 L784.50 121.20 Z M784.50 123.11 L795.90 118.55 L795.90 119.65 L784.50 124.21 Z M784.50 126.12 L795.90 121.56 L795.90 122.66 L784.50 127.22 Z M784.50 129.14 L795.90 124.58 L795.90 125.68 L784.50 130.24 Z" fill="#5e80a8"/>
<path d="M784.50 108.05 L795.90 103.49 L795.90 104.59 L784.50 109.15 Z" fill="#8ea5c2"/>
<path d="M784.50 138.00 L781.60 137.00 L781.60 189.00 L784.50 190.00 Z" fill="url(#gSide)"/>
<path d="M784.50 138.00 L795.90 133.44 L793.00 132.44 L781.60 137.00 Z" fill="#f3f6fa"/>
<rect x="783.90" y="138.00" width="0.60" height="52.00" fill="#eef2f7"/>
<path d="M784.50 138.00 L795.90 133.44 L795.90 185.44 L784.50 190.00 Z" fill="#173d6f"/>
<path d="M784.50 138.00 L795.90 133.44 L795.90 137.24 L784.50 141.80 Z" fill="url(#gCapS)"/>
<path d="M784.50 144.26 L795.90 139.70 L795.90 140.80 L784.50 145.36 Z M784.50 147.28 L795.90 142.72 L795.90 143.81 L784.50 148.38 Z M784.50 150.29 L795.90 145.73 L795.90 146.83 L784.50 151.39 Z M784.50 153.30 L795.90 148.74 L795.90 149.84 L784.50 154.40 Z M784.50 156.31 L795.90 151.75 L795.90 152.85 L784.50 157.41 Z M784.50 159.32 L795.90 154.76 L795.90 155.87 L784.50 160.43 Z M784.50 162.34 L795.90 157.78 L795.90 158.88 L784.50 163.44 Z M784.50 168.36 L795.90 163.80 L795.90 164.90 L784.50 169.46 Z M784.50 171.38 L795.90 166.81 L795.90 167.91 L784.50 172.47 Z M784.50 174.39 L795.90 169.83 L795.90 170.93 L784.50 175.49 Z M784.50 177.40 L795.90 172.84 L795.90 173.94 L784.50 178.50 Z M784.50 180.41 L795.90 175.85 L795.90 176.95 L784.50 181.51 Z M784.50 183.43 L795.90 178.87 L795.90 179.97 L784.50 184.53 Z M784.50 186.44 L795.90 181.88 L795.90 182.98 L784.50 187.54 Z" fill="#5e80a8"/>
<path d="M784.50 165.35 L795.90 160.79 L795.90 161.89 L784.50 166.45 Z" fill="#8ea5c2"/>
<path d="M809.90 80.70 L807.00 79.70 L807.00 131.70 L809.90 132.70 Z" fill="url(#gSide)"/>
<path d="M809.90 80.70 L821.30 76.14 L818.40 75.14 L807.00 79.70 Z" fill="#f3f6fa"/>
<rect x="809.30" y="80.70" width="0.60" height="52.00" fill="#eef2f7"/>
<path d="M809.90 80.70 L821.30 76.14 L821.30 128.14 L809.90 132.70 Z" fill="#173d6f"/>
<path d="M809.90 80.70 L821.30 76.14 L821.30 79.94 L809.90 84.50 Z" fill="url(#gCapS)"/>
<path d="M809.90 86.96 L821.30 82.40 L821.30 83.50 L809.90 88.06 Z M809.90 89.97 L821.30 85.41 L821.30 86.52 L809.90 91.08 Z M809.90 92.99 L821.30 88.43 L821.30 89.53 L809.90 94.09 Z M809.90 96.00 L821.30 91.44 L821.30 92.54 L809.90 97.10 Z M809.90 99.01 L821.30 94.45 L821.30 95.55 L809.90 100.11 Z M809.90 102.03 L821.30 97.47 L821.30 98.56 L809.90 103.12 Z M809.90 105.04 L821.30 100.48 L821.30 101.58 L809.90 106.14 Z M809.90 111.06 L821.30 106.50 L821.30 107.60 L809.90 112.16 Z M809.90 114.08 L821.30 109.52 L821.30 110.61 L809.90 115.17 Z M809.90 117.09 L821.30 112.53 L821.30 113.63 L809.90 118.19 Z M809.90 120.10 L821.30 115.54 L821.30 116.64 L809.90 121.20 Z M809.90 123.11 L821.30 118.55 L821.30 119.65 L809.90 124.21 Z M809.90 126.12 L821.30 121.56 L821.30 122.66 L809.90 127.22 Z M809.90 129.14 L821.30 124.58 L821.30 125.68 L809.90 130.24 Z" fill="#5e80a8"/>
<path d="M809.90 108.05 L821.30 103.49 L821.30 104.59 L809.90 109.15 Z" fill="#8ea5c2"/>
<path d="M809.90 138.00 L807.00 137.00 L807.00 189.00 L809.90 190.00 Z" fill="url(#gSide)"/>
<path d="M809.90 138.00 L821.30 133.44 L818.40 132.44 L807.00 137.00 Z" fill="#f3f6fa"/>
<rect x="809.30" y="138.00" width="0.60" height="52.00" fill="#eef2f7"/>
<path d="M809.90 138.00 L821.30 133.44 L821.30 185.44 L809.90 190.00 Z" fill="#173d6f"/>
<path d="M809.90 138.00 L821.30 133.44 L821.30 137.24 L809.90 141.80 Z" fill="url(#gCapS)"/>
<path d="M809.90 144.26 L821.30 139.70 L821.30 140.80 L809.90 145.36 Z M809.90 147.28 L821.30 142.72 L821.30 143.81 L809.90 148.38 Z M809.90 150.29 L821.30 145.73 L821.30 146.83 L809.90 151.39 Z M809.90 153.30 L821.30 148.74 L821.30 149.84 L809.90 154.40 Z M809.90 156.31 L821.30 151.75 L821.30 152.85 L809.90 157.41 Z M809.90 159.32 L821.30 154.76 L821.30 155.87 L809.90 160.43 Z M809.90 162.34 L821.30 157.78 L821.30 158.88 L809.90 163.44 Z M809.90 168.36 L821.30 163.80 L821.30 164.90 L809.90 169.46 Z M809.90 171.38 L821.30 166.81 L821.30 167.91 L809.90 172.47 Z M809.90 174.39 L821.30 169.83 L821.30 170.93 L809.90 175.49 Z M809.90 177.40 L821.30 172.84 L821.30 173.94 L809.90 178.50 Z M809.90 180.41 L821.30 175.85 L821.30 176.95 L809.90 181.51 Z M809.90 183.43 L821.30 178.87 L821.30 179.97 L809.90 184.53 Z M809.90 186.44 L821.30 181.88 L821.30 182.98 L809.90 187.54 Z" fill="#5e80a8"/>
<path d="M809.90 165.35 L821.30 160.79 L821.30 161.89 L809.90 166.45 Z" fill="#8ea5c2"/>
<rect x="155.00" y="470.70" width="152.50" height="162.70" rx="8" ry="8" fill="url(#gBox)" stroke="url(#gBoxS)" stroke-width="1"/>
<path d="M176.30 510.70 L173.40 509.70 L173.40 561.70 L176.30 562.70 Z" fill="url(#gSide)"/>
<path d="M176.30 510.70 L187.70 506.14 L184.80 505.14 L173.40 509.70 Z" fill="#f3f6fa"/>
<rect x="175.70" y="510.70" width="0.60" height="52.00" fill="#eef2f7"/>
<path d="M176.30 510.70 L187.70 506.14 L187.70 558.14 L176.30 562.70 Z" fill="#173d6f"/>
<path d="M176.30 510.70 L187.70 506.14 L187.70 509.94 L176.30 514.50 Z" fill="url(#gCapS)"/>
<path d="M176.30 516.96 L187.70 512.40 L187.70 513.50 L176.30 518.06 Z M176.30 519.98 L187.70 515.42 L187.70 516.52 L176.30 521.08 Z M176.30 522.99 L187.70 518.43 L187.70 519.53 L176.30 524.09 Z M176.30 526.00 L187.70 521.44 L187.70 522.54 L176.30 527.10 Z M176.30 529.01 L187.70 524.45 L187.70 525.55 L176.30 530.11 Z M176.30 532.02 L187.70 527.47 L187.70 528.57 L176.30 533.12 Z M176.30 535.04 L187.70 530.48 L187.70 531.58 L176.30 536.14 Z M176.30 541.06 L187.70 536.50 L187.70 537.60 L176.30 542.16 Z M176.30 544.08 L187.70 539.52 L187.70 540.62 L176.30 545.17 Z M176.30 547.09 L187.70 542.53 L187.70 543.63 L176.30 548.19 Z M176.30 550.10 L187.70 545.54 L187.70 546.64 L176.30 551.20 Z M176.30 553.11 L187.70 548.55 L187.70 549.65 L176.30 554.21 Z M176.30 556.12 L187.70 551.57 L187.70 552.67 L176.30 557.23 Z M176.30 559.14 L187.70 554.58 L187.70 555.68 L176.30 560.24 Z" fill="#5e80a8"/>
<path d="M176.30 538.05 L187.70 533.49 L187.70 534.59 L176.30 539.15 Z" fill="#8ea5c2"/>
<path d="M176.30 568.00 L173.40 567.00 L173.40 619.00 L176.30 620.00 Z" fill="url(#gSide)"/>
<path d="M176.30 568.00 L187.70 563.44 L184.80 562.44 L173.40 567.00 Z" fill="#f3f6fa"/>
<rect x="175.70" y="568.00" width="0.60" height="52.00" fill="#eef2f7"/>
<path d="M176.30 568.00 L187.70 563.44 L187.70 615.44 L176.30 620.00 Z" fill="#173d6f"/>
<path d="M176.30 568.00 L187.70 563.44 L187.70 567.24 L176.30 571.80 Z" fill="url(#gCapS)"/>
<path d="M176.30 574.26 L187.70 569.70 L187.70 570.80 L176.30 575.36 Z M176.30 577.27 L187.70 572.72 L187.70 573.82 L176.30 578.38 Z M176.30 580.29 L187.70 575.73 L187.70 576.83 L176.30 581.39 Z M176.30 583.30 L187.70 578.74 L187.70 579.84 L176.30 584.40 Z M176.30 586.31 L187.70 581.75 L187.70 582.85 L176.30 587.41 Z M176.30 589.33 L187.70 584.77 L187.70 585.87 L176.30 590.42 Z M176.30 592.34 L187.70 587.78 L187.70 588.88 L176.30 593.44 Z M176.30 598.36 L187.70 593.80 L187.70 594.90 L176.30 599.46 Z M176.30 601.38 L187.70 596.82 L187.70 597.92 L176.30 602.48 Z M176.30 604.39 L187.70 599.83 L187.70 600.93 L176.30 605.49 Z M176.30 607.40 L187.70 602.84 L187.70 603.94 L176.30 608.50 Z M176.30 610.41 L187.70 605.85 L187.70 606.95 L176.30 611.51 Z M176.30 613.42 L187.70 608.87 L187.70 609.97 L176.30 614.52 Z M176.30 616.44 L187.70 611.88 L187.70 612.98 L176.30 617.54 Z" fill="#5e80a8"/>
<path d="M176.30 595.35 L187.70 590.79 L187.70 591.89 L176.30 596.45 Z" fill="#8ea5c2"/>
<path d="M201.70 510.70 L198.80 509.70 L198.80 561.70 L201.70 562.70 Z" fill="url(#gSide)"/>
<path d="M201.70 510.70 L213.10 506.14 L210.20 505.14 L198.80 509.70 Z" fill="#f3f6fa"/>
<rect x="201.10" y="510.70" width="0.60" height="52.00" fill="#eef2f7"/>
<path d="M201.70 510.70 L213.10 506.14 L213.10 558.14 L201.70 562.70 Z" fill="#173d6f"/>
<path d="M201.70 510.70 L213.10 506.14 L213.10 509.94 L201.70 514.50 Z" fill="url(#gCapS)"/>
<path d="M201.70 516.96 L213.10 512.40 L213.10 513.50 L201.70 518.06 Z M201.70 519.98 L213.10 515.42 L213.10 516.52 L201.70 521.08 Z M201.70 522.99 L213.10 518.43 L213.10 519.53 L201.70 524.09 Z M201.70 526.00 L213.10 521.44 L213.10 522.54 L201.70 527.10 Z M201.70 529.01 L213.10 524.45 L213.10 525.55 L201.70 530.11 Z M201.70 532.02 L213.10 527.47 L213.10 528.57 L201.70 533.12 Z M201.70 535.04 L213.10 530.48 L213.10 531.58 L201.70 536.14 Z M201.70 541.06 L213.10 536.50 L213.10 537.60 L201.70 542.16 Z M201.70 544.08 L213.10 539.52 L213.10 540.62 L201.70 545.17 Z M201.70 547.09 L213.10 542.53 L213.10 543.63 L201.70 548.19 Z M201.70 550.10 L213.10 545.54 L213.10 546.64 L201.70 551.20 Z M201.70 553.11 L213.10 548.55 L213.10 549.65 L201.70 554.21 Z M201.70 556.12 L213.10 551.57 L213.10 552.67 L201.70 557.23 Z M201.70 559.14 L213.10 554.58 L213.10 555.68 L201.70 560.24 Z" fill="#5e80a8"/>
<path d="M201.70 538.05 L213.10 533.49 L213.10 534.59 L201.70 539.15 Z" fill="#8ea5c2"/>
<path d="M201.70 568.00 L198.80 567.00 L198.80 619.00 L201.70 620.00 Z" fill="url(#gSide)"/>
<path d="M201.70 568.00 L213.10 563.44 L210.20 562.44 L198.80 567.00 Z" fill="#f3f6fa"/>
<rect x="201.10" y="568.00" width="0.60" height="52.00" fill="#eef2f7"/>
<path d="M201.70 568.00 L213.10 563.44 L213.10 615.44 L201.70 620.00 Z" fill="#173d6f"/>
<path d="M201.70 568.00 L213.10 563.44 L213.10 567.24 L201.70 571.80 Z" fill="url(#gCapS)"/>
<path d="M201.70 574.26 L213.10 569.70 L213.10 570.80 L201.70 575.36 Z M201.70 577.27 L213.10 572.72 L213.10 573.82 L201.70 578.38 Z M201.70 580.29 L213.10 575.73 L213.10 576.83 L201.70 581.39 Z M201.70 583.30 L213.10 578.74 L213.10 579.84 L201.70 584.40 Z M201.70 586.31 L213.10 581.75 L213.10 582.85 L201.70 587.41 Z M201.70 589.33 L213.10 584.77 L213.10 585.87 L201.70 590.42 Z M201.70 592.34 L213.10 587.78 L213.10 588.88 L201.70 593.44 Z M201.70 598.36 L213.10 593.80 L213.10 594.90 L201.70 599.46 Z M201.70 601.38 L213.10 596.82 L213.10 597.92 L201.70 602.48 Z M201.70 604.39 L213.10 599.83 L213.10 600.93 L201.70 605.49 Z M201.70 607.40 L213.10 602.84 L213.10 603.94 L201.70 608.50 Z M201.70 610.41 L213.10 605.85 L213.10 606.95 L201.70 611.51 Z M201.70 613.42 L213.10 608.87 L213.10 609.97 L201.70 614.52 Z M201.70 616.44 L213.10 611.88 L213.10 612.98 L201.70 617.54 Z" fill="#5e80a8"/>
<path d="M201.70 595.35 L213.10 590.79 L213.10 591.89 L201.70 596.45 Z" fill="#8ea5c2"/>
<path d="M227.10 510.70 L224.20 509.70 L224.20 561.70 L227.10 562.70 Z" fill="url(#gSide)"/>
<path d="M227.10 510.70 L238.50 506.14 L235.60 505.14 L224.20 509.70 Z" fill="#f3f6fa"/>
<rect x="226.50" y="510.70" width="0.60" height="52.00" fill="#eef2f7"/>
<path d="M227.10 510.70 L238.50 506.14 L238.50 558.14 L227.10 562.70 Z" fill="#173d6f"/>
<path d="M227.10 510.70 L238.50 506.14 L238.50 509.94 L227.10 514.50 Z" fill="url(#gCapS)"/>
<path d="M227.10 516.96 L238.50 512.40 L238.50 513.50 L227.10 518.06 Z M227.10 519.98 L238.50 515.42 L238.50 516.52 L227.10 521.08 Z M227.10 522.99 L238.50 518.43 L238.50 519.53 L227.10 524.09 Z M227.10 526.00 L238.50 521.44 L238.50 522.54 L227.10 527.10 Z M227.10 529.01 L238.50 524.45 L238.50 525.55 L227.10 530.11 Z M227.10 532.02 L238.50 527.47 L238.50 528.57 L227.10 533.12 Z M227.10 535.04 L238.50 530.48 L238.50 531.58 L227.10 536.14 Z M227.10 541.06 L238.50 536.50 L238.50 537.60 L227.10 542.16 Z M227.10 544.08 L238.50 539.52 L238.50 540.62 L227.10 545.17 Z M227.10 547.09 L238.50 542.53 L238.50 543.63 L227.10 548.19 Z M227.10 550.10 L238.50 545.54 L238.50 546.64 L227.10 551.20 Z M227.10 553.11 L238.50 548.55 L238.50 549.65 L227.10 554.21 Z M227.10 556.12 L238.50 551.57 L238.50 552.67 L227.10 557.23 Z M227.10 559.14 L238.50 554.58 L238.50 555.68 L227.10 560.24 Z" fill="#5e80a8"/>
<path d="M227.10 538.05 L238.50 533.49 L238.50 534.59 L227.10 539.15 Z" fill="#8ea5c2"/>
<path d="M227.10 568.00 L224.20 567.00 L224.20 619.00 L227.10 620.00 Z" fill="url(#gSide)"/>
<path d="M227.10 568.00 L238.50 563.44 L235.60 562.44 L224.20 567.00 Z" fill="#f3f6fa"/>
<rect x="226.50" y="568.00" width="0.60" height="52.00" fill="#eef2f7"/>
<path d="M227.10 568.00 L238.50 563.44 L238.50 615.44 L227.10 620.00 Z" fill="#173d6f"/>
<path d="M227.10 568.00 L238.50 563.44 L238.50 567.24 L227.10 571.80 Z" fill="url(#gCapS)"/>
<path d="M227.10 574.26 L238.50 569.70 L238.50 570.80 L227.10 575.36 Z M227.10 577.27 L238.50 572.72 L238.50 573.82 L227.10 578.38 Z M227.10 580.29 L238.50 575.73 L238.50 576.83 L227.10 581.39 Z M227.10 583.30 L238.50 578.74 L238.50 579.84 L227.10 584.40 Z M227.10 586.31 L238.50 581.75 L238.50 582.85 L227.10 587.41 Z M227.10 589.33 L238.50 584.77 L238.50 585.87 L227.10 590.42 Z M227.10 592.34 L238.50 587.78 L238.50 588.88 L227.10 593.44 Z M227.10 598.36 L238.50 593.80 L238.50 594.90 L227.10 599.46 Z M227.10 601.38 L238.50 596.82 L238.50 597.92 L227.10 602.48 Z M227.10 604.39 L238.50 599.83 L238.50 600.93 L227.10 605.49 Z M227.10 607.40 L238.50 602.84 L238.50 603.94 L227.10 608.50 Z M227.10 610.41 L238.50 605.85 L238.50 606.95 L227.10 611.51 Z M227.10 613.42 L238.50 608.87 L238.50 609.97 L227.10 614.52 Z M227.10 616.44 L238.50 611.88 L238.50 612.98 L227.10 617.54 Z" fill="#5e80a8"/>
<path d="M227.10 595.35 L238.50 590.79 L238.50 591.89 L227.10 596.45 Z" fill="#8ea5c2"/>
<path d="M252.50 510.70 L249.60 509.70 L249.60 561.70 L252.50 562.70 Z" fill="url(#gSide)"/>
<path d="M252.50 510.70 L263.90 506.14 L261.00 505.14 L249.60 509.70 Z" fill="#f3f6fa"/>
<rect x="251.90" y="510.70" width="0.60" height="52.00" fill="#eef2f7"/>
<path d="M252.50 510.70 L263.90 506.14 L263.90 558.14 L252.50 562.70 Z" fill="#173d6f"/>
<path d="M252.50 510.70 L263.90 506.14 L263.90 509.94 L252.50 514.50 Z" fill="url(#gCapS)"/>
<path d="M252.50 516.96 L263.90 512.40 L263.90 513.50 L252.50 518.06 Z M252.50 519.98 L263.90 515.42 L263.90 516.52 L252.50 521.08 Z M252.50 522.99 L263.90 518.43 L263.90 519.53 L252.50 524.09 Z M252.50 526.00 L263.90 521.44 L263.90 522.54 L252.50 527.10 Z M252.50 529.01 L263.90 524.45 L263.90 525.55 L252.50 530.11 Z M252.50 532.02 L263.90 527.47 L263.90 528.57 L252.50 533.12 Z M252.50 535.04 L263.90 530.48 L263.90 531.58 L252.50 536.14 Z M252.50 541.06 L263.90 536.50 L263.90 537.60 L252.50 542.16 Z M252.50 544.08 L263.90 539.52 L263.90 540.62 L252.50 545.17 Z M252.50 547.09 L263.90 542.53 L263.90 543.63 L252.50 548.19 Z M252.50 550.10 L263.90 545.54 L263.90 546.64 L252.50 551.20 Z M252.50 553.11 L263.90 548.55 L263.90 549.65 L252.50 554.21 Z M252.50 556.12 L263.90 551.57 L263.90 552.67 L252.50 557.23 Z M252.50 559.14 L263.90 554.58 L263.90 555.68 L252.50 560.24 Z" fill="#5e80a8"/>
<path d="M252.50 538.05 L263.90 533.49 L263.90 534.59 L252.50 539.15 Z" fill="#8ea5c2"/>
<path d="M252.50 568.00 L249.60 567.00 L249.60 619.00 L252.50 620.00 Z" fill="url(#gSide)"/>
<path d="M252.50 568.00 L263.90 563.44 L261.00 562.44 L249.60 567.00 Z" fill="#f3f6fa"/>
<rect x="251.90" y="568.00" width="0.60" height="52.00" fill="#eef2f7"/>
<path d="M252.50 568.00 L263.90 563.44 L263.90 615.44 L252.50 620.00 Z" fill="#173d6f"/>
<path d="M252.50 568.00 L263.90 563.44 L263.90 567.24 L252.50 571.80 Z" fill="url(#gCapS)"/>
<path d="M252.50 574.26 L263.90 569.70 L263.90 570.80 L252.50 575.36 Z M252.50 577.27 L263.90 572.72 L263.90 573.82 L252.50 578.38 Z M252.50 580.29 L263.90 575.73 L263.90 576.83 L252.50 581.39 Z M252.50 583.30 L263.90 578.74 L263.90 579.84 L252.50 584.40 Z M252.50 586.31 L263.90 581.75 L263.90 582.85 L252.50 587.41 Z M252.50 589.33 L263.90 584.77 L263.90 585.87 L252.50 590.42 Z M252.50 592.34 L263.90 587.78 L263.90 588.88 L252.50 593.44 Z M252.50 598.36 L263.90 593.80 L263.90 594.90 L252.50 599.46 Z M252.50 601.38 L263.90 596.82 L263.90 597.92 L252.50 602.48 Z M252.50 604.39 L263.90 599.83 L263.90 600.93 L252.50 605.49 Z M252.50 607.40 L263.90 602.84 L263.90 603.94 L252.50 608.50 Z M252.50 610.41 L263.90 605.85 L263.90 606.95 L252.50 611.51 Z M252.50 613.42 L263.90 608.87 L263.90 609.97 L252.50 614.52 Z M252.50 616.44 L263.90 611.88 L263.90 612.98 L252.50 617.54 Z" fill="#5e80a8"/>
<path d="M252.50 595.35 L263.90 590.79 L263.90 591.89 L252.50 596.45 Z" fill="#8ea5c2"/>
<path d="M277.90 510.70 L275.00 509.70 L275.00 561.70 L277.90 562.70 Z" fill="url(#gSide)"/>
<path d="M277.90 510.70 L289.30 506.14 L286.40 505.14 L275.00 509.70 Z" fill="#f3f6fa"/>
<rect x="277.30" y="510.70" width="0.60" height="52.00" fill="#eef2f7"/>
<path d="M277.90 510.70 L289.30 506.14 L289.30 558.14 L277.90 562.70 Z" fill="#173d6f"/>
<path d="M277.90 510.70 L289.30 506.14 L289.30 509.94 L277.90 514.50 Z" fill="url(#gCapS)"/>
<path d="M277.90 516.96 L289.30 512.40 L289.30 513.50 L277.90 518.06 Z M277.90 519.98 L289.30 515.42 L289.30 516.52 L277.90 521.08 Z M277.90 522.99 L289.30 518.43 L289.30 519.53 L277.90 524.09 Z M277.90 526.00 L289.30 521.44 L289.30 522.54 L277.90 527.10 Z M277.90 529.01 L289.30 524.45 L289.30 525.55 L277.90 530.11 Z M277.90 532.02 L289.30 527.47 L289.30 528.57 L277.90 533.12 Z M277.90 535.04 L289.30 530.48 L289.30 531.58 L277.90 536.14 Z M277.90 541.06 L289.30 536.50 L289.30 537.60 L277.90 542.16 Z M277.90 544.08 L289.30 539.52 L289.30 540.62 L277.90 545.17 Z M277.90 547.09 L289.30 542.53 L289.30 543.63 L277.90 548.19 Z M277.90 550.10 L289.30 545.54 L289.30 546.64 L277.90 551.20 Z M277.90 553.11 L289.30 548.55 L289.30 549.65 L277.90 554.21 Z M277.90 556.12 L289.30 551.57 L289.30 552.67 L277.90 557.23 Z M277.90 559.14 L289.30 554.58 L289.30 555.68 L277.90 560.24 Z" fill="#5e80a8"/>
<path d="M277.90 538.05 L289.30 533.49 L289.30 534.59 L277.90 539.15 Z" fill="#8ea5c2"/>
<path d="M277.90 568.00 L275.00 567.00 L275.00 619.00 L277.90 620.00 Z" fill="url(#gSide)"/>
<path d="M277.90 568.00 L289.30 563.44 L286.40 562.44 L275.00 567.00 Z" fill="#f3f6fa"/>
<rect x="277.30" y="568.00" width="0.60" height="52.00" fill="#eef2f7"/>
<path d="M277.90 568.00 L289.30 563.44 L289.30 615.44 L277.90 620.00 Z" fill="#173d6f"/>
<path d="M277.90 568.00 L289.30 563.44 L289.30 567.24 L277.90 571.80 Z" fill="url(#gCapS)"/>
<path d="M277.90 574.26 L289.30 569.70 L289.30 570.80 L277.90 575.36 Z M277.90 577.27 L289.30 572.72 L289.30 573.82 L277.90 578.38 Z M277.90 580.29 L289.30 575.73 L289.30 576.83 L277.90 581.39 Z M277.90 583.30 L289.30 578.74 L289.30 579.84 L277.90 584.40 Z M277.90 586.31 L289.30 581.75 L289.30 582.85 L277.90 587.41 Z M277.90 589.33 L289.30 584.77 L289.30 585.87 L277.90 590.42 Z M277.90 592.34 L289.30 587.78 L289.30 588.88 L277.90 593.44 Z M277.90 598.36 L289.30 593.80 L289.30 594.90 L277.90 599.46 Z M277.90 601.38 L289.30 596.82 L289.30 597.92 L277.90 602.48 Z M277.90 604.39 L289.30 599.83 L289.30 600.93 L277.90 605.49 Z M277.90 607.40 L289.30 602.84 L289.30 603.94 L277.90 608.50 Z M277.90 610.41 L289.30 605.85 L289.30 606.95 L277.90 611.51 Z M277.90 613.42 L289.30 608.87 L289.30 609.97 L277.90 614.52 Z M277.90 616.44 L289.30 611.88 L289.30 612.98 L277.90 617.54 Z" fill="#5e80a8"/>
<path d="M277.90 595.35 L289.30 590.79 L289.30 591.89 L277.90 596.45 Z" fill="#8ea5c2"/>
<rect x="687.00" y="470.70" width="152.50" height="162.70" rx="8" ry="8" fill="url(#gBox)" stroke="url(#gBoxS)" stroke-width="1"/>
<path d="M708.30 510.70 L705.40 509.70 L705.40 561.70 L708.30 562.70 Z" fill="url(#gSide)"/>
<path d="M708.30 510.70 L719.70 506.14 L716.80 505.14 L705.40 509.70 Z" fill="#f3f6fa"/>
<rect x="707.70" y="510.70" width="0.60" height="52.00" fill="#eef2f7"/>
<path d="M708.30 510.70 L719.70 506.14 L719.70 558.14 L708.30 562.70 Z" fill="#173d6f"/>
<path d="M708.30 510.70 L719.70 506.14 L719.70 509.94 L708.30 514.50 Z" fill="url(#gCapS)"/>
<path d="M708.30 516.96 L719.70 512.40 L719.70 513.50 L708.30 518.06 Z M708.30 519.98 L719.70 515.42 L719.70 516.52 L708.30 521.08 Z M708.30 522.99 L719.70 518.43 L719.70 519.53 L708.30 524.09 Z M708.30 526.00 L719.70 521.44 L719.70 522.54 L708.30 527.10 Z M708.30 529.01 L719.70 524.45 L719.70 525.55 L708.30 530.11 Z M708.30 532.02 L719.70 527.47 L719.70 528.57 L708.30 533.12 Z M708.30 535.04 L719.70 530.48 L719.70 531.58 L708.30 536.14 Z M708.30 541.06 L719.70 536.50 L719.70 537.60 L708.30 542.16 Z M708.30 544.08 L719.70 539.52 L719.70 540.62 L708.30 545.17 Z M708.30 547.09 L719.70 542.53 L719.70 543.63 L708.30 548.19 Z M708.30 550.10 L719.70 545.54 L719.70 546.64 L708.30 551.20 Z M708.30 553.11 L719.70 548.55 L719.70 549.65 L708.30 554.21 Z M708.30 556.12 L719.70 551.57 L719.70 552.67 L708.30 557.23 Z M708.30 559.14 L719.70 554.58 L719.70 555.68 L708.30 560.24 Z" fill="#5e80a8"/>
<path d="M708.30 538.05 L719.70 533.49 L719.70 534.59 L708.30 539.15 Z" fill="#8ea5c2"/>
<path d="M708.30 568.00 L705.40 567.00 L705.40 619.00 L708.30 620.00 Z" fill="url(#gSide)"/>
<path d="M708.30 568.00 L719.70 563.44 L716.80 562.44 L705.40 567.00 Z" fill="#f3f6fa"/>
<rect x="707.70" y="568.00" width="0.60" height="52.00" fill="#eef2f7"/>
<path d="M708.30 568.00 L719.70 563.44 L719.70 615.44 L708.30 620.00 Z" fill="#173d6f"/>
<path d="M708.30 568.00 L719.70 563.44 L719.70 567.24 L708.30 571.80 Z" fill="url(#gCapS)"/>
<path d="M708.30 574.26 L719.70 569.70 L719.70 570.80 L708.30 575.36 Z M708.30 577.27 L719.70 572.72 L719.70 573.82 L708.30 578.38 Z M708.30 580.29 L719.70 575.73 L719.70 576.83 L708.30 581.39 Z M708.30 583.30 L719.70 578.74 L719.70 579.84 L708.30 584.40 Z M708.30 586.31 L719.70 581.75 L719.70 582.85 L708.30 587.41 Z M708.30 589.33 L719.70 584.77 L719.70 585.87 L708.30 590.42 Z M708.30 592.34 L719.70 587.78 L719.70 588.88 L708.30 593.44 Z M708.30 598.36 L719.70 593.80 L719.70 594.90 L708.30 599.46 Z M708.30 601.38 L719.70 596.82 L719.70 597.92 L708.30 602.48 Z M708.30 604.39 L719.70 599.83 L719.70 600.93 L708.30 605.49 Z M708.30 607.40 L719.70 602.84 L719.70 603.94 L708.30 608.50 Z M708.30 610.41 L719.70 605.85 L719.70 606.95 L708.30 611.51 Z M708.30 613.42 L719.70 608.87 L719.70 609.97 L708.30 614.52 Z M708.30 616.44 L719.70 611.88 L719.70 612.98 L708.30 617.54 Z" fill="#5e80a8"/>
<path d="M708.30 595.35 L719.70 590.79 L719.70 591.89 L708.30 596.45 Z" fill="#8ea5c2"/>
<path d="M733.70 510.70 L730.80 509.70 L730.80 561.70 L733.70 562.70 Z" fill="url(#gSide)"/>
<path d="M733.70 510.70 L745.10 506.14 L742.20 505.14 L730.80 509.70 Z" fill="#f3f6fa"/>
<rect x="733.10" y="510.70" width="0.60" height="52.00" fill="#eef2f7"/>
<path d="M733.70 510.70 L745.10 506.14 L745.10 558.14 L733.70 562.70 Z" fill="#173d6f"/>
<path d="M733.70 510.70 L745.10 506.14 L745.10 509.94 L733.70 514.50 Z" fill="url(#gCapS)"/>
<path d="M733.70 516.96 L745.10 512.40 L745.10 513.50 L733.70 518.06 Z M733.70 519.98 L745.10 515.42 L745.10 516.52 L733.70 521.08 Z M733.70 522.99 L745.10 518.43 L745.10 519.53 L733.70 524.09 Z M733.70 526.00 L745.10 521.44 L745.10 522.54 L733.70 527.10 Z M733.70 529.01 L745.10 524.45 L745.10 525.55 L733.70 530.11 Z M733.70 532.02 L745.10 527.47 L745.10 528.57 L733.70 533.12 Z M733.70 535.04 L745.10 530.48 L745.10 531.58 L733.70 536.14 Z M733.70 541.06 L745.10 536.50 L745.10 537.60 L733.70 542.16 Z M733.70 544.08 L745.10 539.52 L745.10 540.62 L733.70 545.17 Z M733.70 547.09 L745.10 542.53 L745.10 543.63 L733.70 548.19 Z M733.70 550.10 L745.10 545.54 L745.10 546.64 L733.70 551.20 Z M733.70 553.11 L745.10 548.55 L745.10 549.65 L733.70 554.21 Z M733.70 556.12 L745.10 551.57 L745.10 552.67 L733.70 557.23 Z M733.70 559.14 L745.10 554.58 L745.10 555.68 L733.70 560.24 Z" fill="#5e80a8"/>
<path d="M733.70 538.05 L745.10 533.49 L745.10 534.59 L733.70 539.15 Z" fill="#8ea5c2"/>
<path d="M733.70 568.00 L730.80 567.00 L730.80 619.00 L733.70 620.00 Z" fill="url(#gSide)"/>
<path d="M733.70 568.00 L745.10 563.44 L742.20 562.44 L730.80 567.00 Z" fill="#f3f6fa"/>
<rect x="733.10" y="568.00" width="0.60" height="52.00" fill="#eef2f7"/>
<path d="M733.70 568.00 L745.10 563.44 L745.10 615.44 L733.70 620.00 Z" fill="#173d6f"/>
<path d="M733.70 568.00 L745.10 563.44 L745.10 567.24 L733.70 571.80 Z" fill="url(#gCapS)"/>
<path d="M733.70 574.26 L745.10 569.70 L745.10 570.80 L733.70 575.36 Z M733.70 577.27 L745.10 572.72 L745.10 573.82 L733.70 578.38 Z M733.70 580.29 L745.10 575.73 L745.10 576.83 L733.70 581.39 Z M733.70 583.30 L745.10 578.74 L745.10 579.84 L733.70 584.40 Z M733.70 586.31 L745.10 581.75 L745.10 582.85 L733.70 587.41 Z M733.70 589.33 L745.10 584.77 L745.10 585.87 L733.70 590.42 Z M733.70 592.34 L745.10 587.78 L745.10 588.88 L733.70 593.44 Z M733.70 598.36 L745.10 593.80 L745.10 594.90 L733.70 599.46 Z M733.70 601.38 L745.10 596.82 L745.10 597.92 L733.70 602.48 Z M733.70 604.39 L745.10 599.83 L745.10 600.93 L733.70 605.49 Z M733.70 607.40 L745.10 602.84 L745.10 603.94 L733.70 608.50 Z M733.70 610.41 L745.10 605.85 L745.10 606.95 L733.70 611.51 Z M733.70 613.42 L745.10 608.87 L745.10 609.97 L733.70 614.52 Z M733.70 616.44 L745.10 611.88 L745.10 612.98 L733.70 617.54 Z" fill="#5e80a8"/>
<path d="M733.70 595.35 L745.10 590.79 L745.10 591.89 L733.70 596.45 Z" fill="#8ea5c2"/>
<path d="M759.10 510.70 L756.20 509.70 L756.20 561.70 L759.10 562.70 Z" fill="url(#gSide)"/>
<path d="M759.10 510.70 L770.50 506.14 L767.60 505.14 L756.20 509.70 Z" fill="#f3f6fa"/>
<rect x="758.50" y="510.70" width="0.60" height="52.00" fill="#eef2f7"/>
<path d="M759.10 510.70 L770.50 506.14 L770.50 558.14 L759.10 562.70 Z" fill="#173d6f"/>
<path d="M759.10 510.70 L770.50 506.14 L770.50 509.94 L759.10 514.50 Z" fill="url(#gCapS)"/>
<path d="M759.10 516.96 L770.50 512.40 L770.50 513.50 L759.10 518.06 Z M759.10 519.98 L770.50 515.42 L770.50 516.52 L759.10 521.08 Z M759.10 522.99 L770.50 518.43 L770.50 519.53 L759.10 524.09 Z M759.10 526.00 L770.50 521.44 L770.50 522.54 L759.10 527.10 Z M759.10 529.01 L770.50 524.45 L770.50 525.55 L759.10 530.11 Z M759.10 532.02 L770.50 527.47 L770.50 528.57 L759.10 533.12 Z M759.10 535.04 L770.50 530.48 L770.50 531.58 L759.10 536.14 Z M759.10 541.06 L770.50 536.50 L770.50 537.60 L759.10 542.16 Z M759.10 544.08 L770.50 539.52 L770.50 540.62 L759.10 545.17 Z M759.10 547.09 L770.50 542.53 L770.50 543.63 L759.10 548.19 Z M759.10 550.10 L770.50 545.54 L770.50 546.64 L759.10 551.20 Z M759.10 553.11 L770.50 548.55 L770.50 549.65 L759.10 554.21 Z M759.10 556.12 L770.50 551.57 L770.50 552.67 L759.10 557.23 Z M759.10 559.14 L770.50 554.58 L770.50 555.68 L759.10 560.24 Z" fill="#5e80a8"/>
<path d="M759.10 538.05 L770.50 533.49 L770.50 534.59 L759.10 539.15 Z" fill="#8ea5c2"/>
<path d="M759.10 568.00 L756.20 567.00 L756.20 619.00 L759.10 620.00 Z" fill="url(#gSide)"/>
<path d="M759.10 568.00 L770.50 563.44 L767.60 562.44 L756.20 567.00 Z" fill="#f3f6fa"/>
<rect x="758.50" y="568.00" width="0.60" height="52.00" fill="#eef2f7"/>
<path d="M759.10 568.00 L770.50 563.44 L770.50 615.44 L759.10 620.00 Z" fill="#173d6f"/>
<path d="M759.10 568.00 L770.50 563.44 L770.50 567.24 L759.10 571.80 Z" fill="url(#gCapS)"/>
<path d="M759.10 574.26 L770.50 569.70 L770.50 570.80 L759.10 575.36 Z M759.10 577.27 L770.50 572.72 L770.50 573.82 L759.10 578.38 Z M759.10 580.29 L770.50 575.73 L770.50 576.83 L759.10 581.39 Z M759.10 583.30 L770.50 578.74 L770.50 579.84 L759.10 584.40 Z M759.10 586.31 L770.50 581.75 L770.50 582.85 L759.10 587.41 Z M759.10 589.33 L770.50 584.77 L770.50 585.87 L759.10 590.42 Z M759.10 592.34 L770.50 587.78 L770.50 588.88 L759.10 593.44 Z M759.10 598.36 L770.50 593.80 L770.50 594.90 L759.10 599.46 Z M759.10 601.38 L770.50 596.82 L770.50 597.92 L759.10 602.48 Z M759.10 604.39 L770.50 599.83 L770.50 600.93 L759.10 605.49 Z M759.10 607.40 L770.50 602.84 L770.50 603.94 L759.10 608.50 Z M759.10 610.41 L770.50 605.85 L770.50 606.95 L759.10 611.51 Z M759.10 613.42 L770.50 608.87 L770.50 609.97 L759.10 614.52 Z M759.10 616.44 L770.50 611.88 L770.50 612.98 L759.10 617.54 Z" fill="#5e80a8"/>
<path d="M759.10 595.35 L770.50 590.79 L770.50 591.89 L759.10 596.45 Z" fill="#8ea5c2"/>
<path d="M784.50 510.70 L781.60 509.70 L781.60 561.70 L784.50 562.70 Z" fill="url(#gSide)"/>
<path d="M784.50 510.70 L795.90 506.14 L793.00 505.14 L781.60 509.70 Z" fill="#f3f6fa"/>
<rect x="783.90" y="510.70" width="0.60" height="52.00" fill="#eef2f7"/>
<path d="M784.50 510.70 L795.90 506.14 L795.90 558.14 L784.50 562.70 Z" fill="#173d6f"/>
<path d="M784.50 510.70 L795.90 506.14 L795.90 509.94 L784.50 514.50 Z" fill="url(#gCapS)"/>
<path d="M784.50 516.96 L795.90 512.40 L795.90 513.50 L784.50 518.06 Z M784.50 519.98 L795.90 515.42 L795.90 516.52 L784.50 521.08 Z M784.50 522.99 L795.90 518.43 L795.90 519.53 L784.50 524.09 Z M784.50 526.00 L795.90 521.44 L795.90 522.54 L784.50 527.10 Z M784.50 529.01 L795.90 524.45 L795.90 525.55 L784.50 530.11 Z M784.50 532.02 L795.90 527.47 L795.90 528.57 L784.50 533.12 Z M784.50 535.04 L795.90 530.48 L795.90 531.58 L784.50 536.14 Z M784.50 541.06 L795.90 536.50 L795.90 537.60 L784.50 542.16 Z M784.50 544.08 L795.90 539.52 L795.90 540.62 L784.50 545.17 Z M784.50 547.09 L795.90 542.53 L795.90 543.63 L784.50 548.19 Z M784.50 550.10 L795.90 545.54 L795.90 546.64 L784.50 551.20 Z M784.50 553.11 L795.90 548.55 L795.90 549.65 L784.50 554.21 Z M784.50 556.12 L795.90 551.57 L795.90 552.67 L784.50 557.23 Z M784.50 559.14 L795.90 554.58 L795.90 555.68 L784.50 560.24 Z" fill="#5e80a8"/>
<path d="M784.50 538.05 L795.90 533.49 L795.90 534.59 L784.50 539.15 Z" fill="#8ea5c2"/>
<path d="M784.50 568.00 L781.60 567.00 L781.60 619.00 L784.50 620.00 Z" fill="url(#gSide)"/>
<path d="M784.50 568.00 L795.90 563.44 L793.00 562.44 L781.60 567.00 Z" fill="#f3f6fa"/>
<rect x="783.90" y="568.00" width="0.60" height="52.00" fill="#eef2f7"/>
<path d="M784.50 568.00 L795.90 563.44 L795.90 615.44 L784.50 620.00 Z" fill="#173d6f"/>
<path d="M784.50 568.00 L795.90 563.44 L795.90 567.24 L784.50 571.80 Z" fill="url(#gCapS)"/>
<path d="M784.50 574.26 L795.90 569.70 L795.90 570.80 L784.50 575.36 Z M784.50 577.27 L795.90 572.72 L795.90 573.82 L784.50 578.38 Z M784.50 580.29 L795.90 575.73 L795.90 576.83 L784.50 581.39 Z M784.50 583.30 L795.90 578.74 L795.90 579.84 L784.50 584.40 Z M784.50 586.31 L795.90 581.75 L795.90 582.85 L784.50 587.41 Z M784.50 589.33 L795.90 584.77 L795.90 585.87 L784.50 590.42 Z M784.50 592.34 L795.90 587.78 L795.90 588.88 L784.50 593.44 Z M784.50 598.36 L795.90 593.80 L795.90 594.90 L784.50 599.46 Z M784.50 601.38 L795.90 596.82 L795.90 597.92 L784.50 602.48 Z M784.50 604.39 L795.90 599.83 L795.90 600.93 L784.50 605.49 Z M784.50 607.40 L795.90 602.84 L795.90 603.94 L784.50 608.50 Z M784.50 610.41 L795.90 605.85 L795.90 606.95 L784.50 611.51 Z M784.50 613.42 L795.90 608.87 L795.90 609.97 L784.50 614.52 Z M784.50 616.44 L795.90 611.88 L795.90 612.98 L784.50 617.54 Z" fill="#5e80a8"/>
<path d="M784.50 595.35 L795.90 590.79 L795.90 591.89 L784.50 596.45 Z" fill="#8ea5c2"/>
<path d="M809.90 510.70 L807.00 509.70 L807.00 561.70 L809.90 562.70 Z" fill="url(#gSide)"/>
<path d="M809.90 510.70 L821.30 506.14 L818.40 505.14 L807.00 509.70 Z" fill="#f3f6fa"/>
<rect x="809.30" y="510.70" width="0.60" height="52.00" fill="#eef2f7"/>
<path d="M809.90 510.70 L821.30 506.14 L821.30 558.14 L809.90 562.70 Z" fill="#173d6f"/>
<path d="M809.90 510.70 L821.30 506.14 L821.30 509.94 L809.90 514.50 Z" fill="url(#gCapS)"/>
<path d="M809.90 516.96 L821.30 512.40 L821.30 513.50 L809.90 518.06 Z M809.90 519.98 L821.30 515.42 L821.30 516.52 L809.90 521.08 Z M809.90 522.99 L821.30 518.43 L821.30 519.53 L809.90 524.09 Z M809.90 526.00 L821.30 521.44 L821.30 522.54 L809.90 527.10 Z M809.90 529.01 L821.30 524.45 L821.30 525.55 L809.90 530.11 Z M809.90 532.02 L821.30 527.47 L821.30 528.57 L809.90 533.12 Z M809.90 535.04 L821.30 530.48 L821.30 531.58 L809.90 536.14 Z M809.90 541.06 L821.30 536.50 L821.30 537.60 L809.90 542.16 Z M809.90 544.08 L821.30 539.52 L821.30 540.62 L809.90 545.17 Z M809.90 547.09 L821.30 542.53 L821.30 543.63 L809.90 548.19 Z M809.90 550.10 L821.30 545.54 L821.30 546.64 L809.90 551.20 Z M809.90 553.11 L821.30 548.55 L821.30 549.65 L809.90 554.21 Z M809.90 556.12 L821.30 551.57 L821.30 552.67 L809.90 557.23 Z M809.90 559.14 L821.30 554.58 L821.30 555.68 L809.90 560.24 Z" fill="#5e80a8"/>
<path d="M809.90 538.05 L821.30 533.49 L821.30 534.59 L809.90 539.15 Z" fill="#8ea5c2"/>
<path d="M809.90 568.00 L807.00 567.00 L807.00 619.00 L809.90 620.00 Z" fill="url(#gSide)"/>
<path d="M809.90 568.00 L821.30 563.44 L818.40 562.44 L807.00 567.00 Z" fill="#f3f6fa"/>
<rect x="809.30" y="568.00" width="0.60" height="52.00" fill="#eef2f7"/>
<path d="M809.90 568.00 L821.30 563.44 L821.30 615.44 L809.90 620.00 Z" fill="#173d6f"/>
<path d="M809.90 568.00 L821.30 563.44 L821.30 567.24 L809.90 571.80 Z" fill="url(#gCapS)"/>
<path d="M809.90 574.26 L821.30 569.70 L821.30 570.80 L809.90 575.36 Z M809.90 577.27 L821.30 572.72 L821.30 573.82 L809.90 578.38 Z M809.90 580.29 L821.30 575.73 L821.30 576.83 L809.90 581.39 Z M809.90 583.30 L821.30 578.74 L821.30 579.84 L809.90 584.40 Z M809.90 586.31 L821.30 581.75 L821.30 582.85 L809.90 587.41 Z M809.90 589.33 L821.30 584.77 L821.30 585.87 L809.90 590.42 Z M809.90 592.34 L821.30 587.78 L821.30 588.88 L809.90 593.44 Z M809.90 598.36 L821.30 593.80 L821.30 594.90 L809.90 599.46 Z M809.90 601.38 L821.30 596.82 L821.30 597.92 L809.90 602.48 Z M809.90 604.39 L821.30 599.83 L821.30 600.93 L809.90 605.49 Z M809.90 607.40 L821.30 602.84 L821.30 603.94 L809.90 608.50 Z M809.90 610.41 L821.30 605.85 L821.30 606.95 L809.90 611.51 Z M809.90 613.42 L821.30 608.87 L821.30 609.97 L809.90 614.52 Z M809.90 616.44 L821.30 611.88 L821.30 612.98 L809.90 617.54 Z" fill="#5e80a8"/>
<path d="M809.90 595.35 L821.30 590.79 L821.30 591.89 L809.90 596.45 Z" fill="#8ea5c2"/>
<rect x="349.50" y="204.80" width="287.00" height="263.30" rx="8" ry="8" fill="url(#gBox)" stroke="url(#gBoxS)" stroke-width="1"/>
<path d="M370.20 236.00 L402.70 236.00 L402.70 439.80 L412.60 439.80 L386.45 461.60 L360.30 439.80 L370.20 439.80 Z" fill="url(#gRed)" stroke="#d57070" stroke-width="0.8"/>
<path d="M426.80 236.00 L459.30 236.00 L459.30 439.80 L469.20 439.80 L443.05 461.60 L416.90 439.80 L426.80 439.80 Z" fill="url(#gRed)" stroke="#d57070" stroke-width="0.8"/>
<path d="M379.10 257.20 L375.10 255.00 L375.10 341.60 L379.10 343.80 Z" fill="url(#gSide)"/>
<path d="M379.10 257.20 L397.40 248.96 L393.40 246.76 L375.10 255.00 Z" fill="#f3f6fa"/>
<rect x="378.20" y="257.20" width="0.90" height="86.60" fill="#eef2f7"/>
<path d="M379.10 257.20 L397.40 248.96 L397.40 335.56 L379.10 343.80 Z" fill="#19457a"/>
<path d="M379.10 257.20 L397.40 248.96 L397.40 256.46 L379.10 264.70 Z" fill="url(#gCapL)"/>
<path d="M379.10 270.74 L397.40 262.51 L397.40 263.61 L379.10 271.84 Z M379.10 277.33 L397.40 269.10 L397.40 270.20 L379.10 278.43 Z M379.10 283.93 L397.40 275.69 L397.40 276.79 L379.10 285.02 Z M379.10 290.52 L397.40 282.28 L397.40 283.38 L379.10 291.62 Z M379.10 297.11 L397.40 288.87 L397.40 289.97 L379.10 298.21 Z M379.10 310.29 L397.40 302.06 L397.40 303.16 L379.10 311.39 Z M379.10 316.88 L397.40 308.65 L397.40 309.75 L379.10 317.98 Z M379.10 323.47 L397.40 315.24 L397.40 316.34 L379.10 324.57 Z M379.10 330.07 L397.40 321.83 L397.40 322.93 L379.10 331.17 Z M379.10 336.66 L397.40 328.42 L397.40 329.52 L379.10 337.76 Z" fill="#7593b9"/>
<path d="M379.10 303.50 L397.40 295.26 L397.40 296.76 L379.10 305.00 Z" fill="#a0b2c9"/>
<path d="M379.10 352.20 L375.10 350.00 L375.10 436.60 L379.10 438.80 Z" fill="url(#gSide)"/>
<path d="M379.10 352.20 L397.40 343.96 L393.40 341.76 L375.10 350.00 Z" fill="#f3f6fa"/>
<rect x="378.20" y="352.20" width="0.90" height="86.60" fill="#eef2f7"/>
<path d="M379.10 352.20 L397.40 343.96 L397.40 430.56 L379.10 438.80 Z" fill="#19457a"/>
<path d="M379.10 352.20 L397.40 343.96 L397.40 351.46 L379.10 359.70 Z" fill="url(#gCapL)"/>
<path d="M379.10 365.74 L397.40 357.51 L397.40 358.61 L379.10 366.84 Z M379.10 372.33 L397.40 364.10 L397.40 365.20 L379.10 373.43 Z M379.10 378.93 L397.40 370.69 L397.40 371.79 L379.10 380.02 Z M379.10 385.52 L397.40 377.28 L397.40 378.38 L379.10 386.62 Z M379.10 392.11 L397.40 383.87 L397.40 384.97 L379.10 393.21 Z M379.10 405.29 L397.40 397.06 L397.40 398.16 L379.10 406.39 Z M379.10 411.88 L397.40 403.65 L397.40 404.75 L379.10 412.98 Z M379.10 418.47 L397.40 410.24 L397.40 411.34 L379.10 419.57 Z M379.10 425.07 L397.40 416.83 L397.40 417.93 L379.10 426.17 Z M379.10 431.66 L397.40 423.42 L397.40 424.52 L379.10 432.76 Z" fill="#7593b9"/>
<path d="M379.10 398.50 L397.40 390.26 L397.40 391.76 L379.10 400.00 Z" fill="#a0b2c9"/>
<path d="M435.83 257.20 L431.83 255.00 L431.83 341.60 L435.83 343.80 Z" fill="url(#gSide)"/>
<path d="M435.83 257.20 L454.13 248.96 L450.13 246.76 L431.83 255.00 Z" fill="#f3f6fa"/>
<rect x="434.93" y="257.20" width="0.90" height="86.60" fill="#eef2f7"/>
<path d="M435.83 257.20 L454.13 248.96 L454.13 335.56 L435.83 343.80 Z" fill="#19457a"/>
<path d="M435.83 257.20 L454.13 248.96 L454.13 256.46 L435.83 264.70 Z" fill="url(#gCapL)"/>
<path d="M435.83 270.74 L454.13 262.51 L454.13 263.61 L435.83 271.84 Z M435.83 277.33 L454.13 269.10 L454.13 270.20 L435.83 278.43 Z M435.83 283.93 L454.13 275.69 L454.13 276.79 L435.83 285.02 Z M435.83 290.52 L454.13 282.28 L454.13 283.38 L435.83 291.62 Z M435.83 297.11 L454.13 288.87 L454.13 289.97 L435.83 298.21 Z M435.83 310.29 L454.13 302.06 L454.13 303.16 L435.83 311.39 Z M435.83 316.88 L454.13 308.65 L454.13 309.75 L435.83 317.98 Z M435.83 323.47 L454.13 315.24 L454.13 316.34 L435.83 324.57 Z M435.83 330.07 L454.13 321.83 L454.13 322.93 L435.83 331.17 Z M435.83 336.66 L454.13 328.42 L454.13 329.52 L435.83 337.76 Z" fill="#7593b9"/>
<path d="M435.83 303.50 L454.13 295.26 L454.13 296.76 L435.83 305.00 Z" fill="#a0b2c9"/>
<path d="M435.83 352.20 L431.83 350.00 L431.83 436.60 L435.83 438.80 Z" fill="url(#gSide)"/>
<path d="M435.83 352.20 L454.13 343.96 L450.13 341.76 L431.83 350.00 Z" fill="#f3f6fa"/>
<rect x="434.93" y="352.20" width="0.90" height="86.60" fill="#eef2f7"/>
<path d="M435.83 352.20 L454.13 343.96 L454.13 430.56 L435.83 438.80 Z" fill="#19457a"/>
<path d="M435.83 352.20 L454.13 343.96 L454.13 351.46 L435.83 359.70 Z" fill="url(#gCapL)"/>
<path d="M435.83 365.74 L454.13 357.51 L454.13 358.61 L435.83 366.84 Z M435.83 372.33 L454.13 364.10 L454.13 365.20 L435.83 373.43 Z M435.83 378.93 L454.13 370.69 L454.13 371.79 L435.83 380.02 Z M435.83 385.52 L454.13 377.28 L454.13 378.38 L435.83 386.62 Z M435.83 392.11 L454.13 383.87 L454.13 384.97 L435.83 393.21 Z M435.83 405.29 L454.13 397.06 L454.13 398.16 L435.83 406.39 Z M435.83 411.88 L454.13 403.65 L454.13 404.75 L435.83 412.98 Z M435.83 418.47 L454.13 410.24 L454.13 411.34 L435.83 419.57 Z M435.83 425.07 L454.13 416.83 L454.13 417.93 L435.83 426.17 Z M435.83 431.66 L454.13 423.42 L454.13 424.52 L435.83 432.76 Z" fill="#7593b9"/>
<path d="M435.83 398.50 L454.13 390.26 L454.13 391.76 L435.83 400.00 Z" fill="#a0b2c9"/>
<path d="M492.56 257.20 L488.56 255.00 L488.56 341.60 L492.56 343.80 Z" fill="url(#gSide)"/>
<path d="M492.56 257.20 L510.86 248.96 L506.86 246.76 L488.56 255.00 Z" fill="#f3f6fa"/>
<rect x="491.66" y="257.20" width="0.90" height="86.60" fill="#eef2f7"/>
<path d="M492.56 257.20 L510.86 248.96 L510.86 335.56 L492.56 343.80 Z" fill="#19457a"/>
<path d="M492.56 257.20 L510.86 248.96 L510.86 256.46 L492.56 264.70 Z" fill="url(#gCapL)"/>
<path d="M492.56 270.74 L510.86 262.51 L510.86 263.61 L492.56 271.84 Z M492.56 277.33 L510.86 269.10 L510.86 270.20 L492.56 278.43 Z M492.56 283.93 L510.86 275.69 L510.86 276.79 L492.56 285.02 Z M492.56 290.52 L510.86 282.28 L510.86 283.38 L492.56 291.62 Z M492.56 297.11 L510.86 288.87 L510.86 289.97 L492.56 298.21 Z M492.56 310.29 L510.86 302.06 L510.86 303.16 L492.56 311.39 Z M492.56 316.88 L510.86 308.65 L510.86 309.75 L492.56 317.98 Z M492.56 323.47 L510.86 315.24 L510.86 316.34 L492.56 324.57 Z M492.56 330.07 L510.86 321.83 L510.86 322.93 L492.56 331.17 Z M492.56 336.66 L510.86 328.42 L510.86 329.52 L492.56 337.76 Z" fill="#7593b9"/>
<path d="M492.56 303.50 L510.86 295.26 L510.86 296.76 L492.56 305.00 Z" fill="#a0b2c9"/>
<path d="M492.56 352.20 L488.56 350.00 L488.56 436.60 L492.56 438.80 Z" fill="url(#gSide)"/>
<path d="M492.56 352.20 L510.86 343.96 L506.86 341.76 L488.56 350.00 Z" fill="#f3f6fa"/>
<rect x="491.66" y="352.20" width="0.90" height="86.60" fill="#eef2f7"/>
<path d="M492.56 352.20 L510.86 343.96 L510.86 430.56 L492.56 438.80 Z" fill="#19457a"/>
<path d="M492.56 352.20 L510.86 343.96 L510.86 351.46 L492.56 359.70 Z" fill="url(#gCapL)"/>
<path d="M492.56 365.74 L510.86 357.51 L510.86 358.61 L492.56 366.84 Z M492.56 372.33 L510.86 364.10 L510.86 365.20 L492.56 373.43 Z M492.56 378.93 L510.86 370.69 L510.86 371.79 L492.56 380.02 Z M492.56 385.52 L510.86 377.28 L510.86 378.38 L492.56 386.62 Z M492.56 392.11 L510.86 383.87 L510.86 384.97 L492.56 393.21 Z M492.56 405.29 L510.86 397.06 L510.86 398.16 L492.56 406.39 Z M492.56 411.88 L510.86 403.65 L510.86 404.75 L492.56 412.98 Z M492.56 418.47 L510.86 410.24 L510.86 411.34 L492.56 419.57 Z M492.56 425.07 L510.86 416.83 L510.86 417.93 L492.56 426.17 Z M492.56 431.66 L510.86 423.42 L510.86 424.52 L492.56 432.76 Z" fill="#7593b9"/>
<path d="M492.56 398.50 L510.86 390.26 L510.86 391.76 L492.56 400.00 Z" fill="#a0b2c9"/>
<path d="M549.29 257.20 L545.29 255.00 L545.29 341.60 L549.29 343.80 Z" fill="url(#gSide)"/>
<path d="M549.29 257.20 L567.59 248.96 L563.59 246.76 L545.29 255.00 Z" fill="#f3f6fa"/>
<rect x="548.39" y="257.20" width="0.90" height="86.60" fill="#eef2f7"/>
<path d="M549.29 257.20 L567.59 248.96 L567.59 335.56 L549.29 343.80 Z" fill="#19457a"/>
<path d="M549.29 257.20 L567.59 248.96 L567.59 256.46 L549.29 264.70 Z" fill="url(#gCapL)"/>
<path d="M549.29 270.74 L567.59 262.51 L567.59 263.61 L549.29 271.84 Z M549.29 277.33 L567.59 269.10 L567.59 270.20 L549.29 278.43 Z M549.29 283.93 L567.59 275.69 L567.59 276.79 L549.29 285.02 Z M549.29 290.52 L567.59 282.28 L567.59 283.38 L549.29 291.62 Z M549.29 297.11 L567.59 288.87 L567.59 289.97 L549.29 298.21 Z M549.29 310.29 L567.59 302.06 L567.59 303.16 L549.29 311.39 Z M549.29 316.88 L567.59 308.65 L567.59 309.75 L549.29 317.98 Z M549.29 323.47 L567.59 315.24 L567.59 316.34 L549.29 324.57 Z M549.29 330.07 L567.59 321.83 L567.59 322.93 L549.29 331.17 Z M549.29 336.66 L567.59 328.42 L567.59 329.52 L549.29 337.76 Z" fill="#7593b9"/>
<path d="M549.29 303.50 L567.59 295.26 L567.59 296.76 L549.29 305.00 Z" fill="#a0b2c9"/>
<path d="M549.29 352.20 L545.29 350.00 L545.29 436.60 L549.29 438.80 Z" fill="url(#gSide)"/>
<path d="M549.29 352.20 L567.59 343.96 L563.59 341.76 L545.29 350.00 Z" fill="#f3f6fa"/>
<rect x="548.39" y="352.20" width="0.90" height="86.60" fill="#eef2f7"/>
<path d="M549.29 352.20 L567.59 343.96 L567.59 430.56 L549.29 438.80 Z" fill="#19457a"/>
<path d="M549.29 352.20 L567.59 343.96 L567.59 351.46 L549.29 359.70 Z" fill="url(#gCapL)"/>
<path d="M549.29 365.74 L567.59 357.51 L567.59 358.61 L549.29 366.84 Z M549.29 372.33 L567.59 364.10 L567.59 365.20 L549.29 373.43 Z M549.29 378.93 L567.59 370.69 L567.59 371.79 L549.29 380.02 Z M549.29 385.52 L567.59 377.28 L567.59 378.38 L549.29 386.62 Z M549.29 392.11 L567.59 383.87 L567.59 384.97 L549.29 393.21 Z M549.29 405.29 L567.59 397.06 L567.59 398.16 L549.29 406.39 Z M549.29 411.88 L567.59 403.65 L567.59 404.75 L549.29 412.98 Z M549.29 418.47 L567.59 410.24 L567.59 411.34 L549.29 419.57 Z M549.29 425.07 L567.59 416.83 L567.59 417.93 L549.29 426.17 Z M549.29 431.66 L567.59 423.42 L567.59 424.52 L549.29 432.76 Z" fill="#7593b9"/>
<path d="M549.29 398.50 L567.59 390.26 L567.59 391.76 L549.29 400.00 Z" fill="#a0b2c9"/>
<path d="M606.02 257.20 L602.02 255.00 L602.02 341.60 L606.02 343.80 Z" fill="url(#gSide)"/>
<path d="M606.02 257.20 L624.32 248.96 L620.32 246.76 L602.02 255.00 Z" fill="#f3f6fa"/>
<rect x="605.12" y="257.20" width="0.90" height="86.60" fill="#eef2f7"/>
<path d="M606.02 257.20 L624.32 248.96 L624.32 335.56 L606.02 343.80 Z" fill="#19457a"/>
<path d="M606.02 257.20 L624.32 248.96 L624.32 256.46 L606.02 264.70 Z" fill="url(#gCapL)"/>
<path d="M606.02 270.74 L624.32 262.51 L624.32 263.61 L606.02 271.84 Z M606.02 277.33 L624.32 269.10 L624.32 270.20 L606.02 278.43 Z M606.02 283.93 L624.32 275.69 L624.32 276.79 L606.02 285.02 Z M606.02 290.52 L624.32 282.28 L624.32 283.38 L606.02 291.62 Z M606.02 297.11 L624.32 288.87 L624.32 289.97 L606.02 298.21 Z M606.02 310.29 L624.32 302.06 L624.32 303.16 L606.02 311.39 Z M606.02 316.88 L624.32 308.65 L624.32 309.75 L606.02 317.98 Z M606.02 323.47 L624.32 315.24 L624.32 316.34 L606.02 324.57 Z M606.02 330.07 L624.32 321.83 L624.32 322.93 L606.02 331.17 Z M606.02 336.66 L624.32 328.42 L624.32 329.52 L606.02 337.76 Z" fill="#7593b9"/>
<path d="M606.02 303.50 L624.32 295.26 L624.32 296.76 L606.02 305.00 Z" fill="#a0b2c9"/>
<path d="M606.02 352.20 L602.02 350.00 L602.02 436.60 L606.02 438.80 Z" fill="url(#gSide)"/>
<path d="M606.02 352.20 L624.32 343.96 L620.32 341.76 L602.02 350.00 Z" fill="#f3f6fa"/>
<rect x="605.12" y="352.20" width="0.90" height="86.60" fill="#eef2f7"/>
<path d="M606.02 352.20 L624.32 343.96 L624.32 430.56 L606.02 438.80 Z" fill="#19457a"/>
<path d="M606.02 352.20 L624.32 343.96 L624.32 351.46 L606.02 359.70 Z" fill="url(#gCapL)"/>
<path d="M606.02 365.74 L624.32 357.51 L624.32 358.61 L606.02 366.84 Z M606.02 372.33 L624.32 364.10 L624.32 365.20 L606.02 373.43 Z M606.02 378.93 L624.32 370.69 L624.32 371.79 L606.02 380.02 Z M606.02 385.52 L624.32 377.28 L624.32 378.38 L606.02 386.62 Z M606.02 392.11 L624.32 383.87 L624.32 384.97 L606.02 393.21 Z M606.02 405.29 L624.32 397.06 L624.32 398.16 L606.02 406.39 Z M606.02 411.88 L624.32 403.65 L624.32 404.75 L606.02 412.98 Z M606.02 418.47 L624.32 410.24 L624.32 411.34 L606.02 419.57 Z M606.02 425.07 L624.32 416.83 L624.32 417.93 L606.02 426.17 Z M606.02 431.66 L624.32 423.42 L624.32 424.52 L606.02 432.76 Z" fill="#7593b9"/>
<path d="M606.02 398.50 L624.32 390.26 L624.32 391.76 L606.02 400.00 Z" fill="#a0b2c9"/>
<path d="M246.5 328.9 H319 V322.3 L341.6 335.2 L319 348.1 V341.4 H246.5 Z" fill="url(#gArrow)"/>
<path d="M161.9 325.5 L176 360.8 L191.4 360.8 L205.9 325.5 Z" fill="url(#gFun)"/>
<path d="M176 359.5 L176 365.4 A7.7 2.4 0 0 0 191.4 365.4 L191.4 359.5 Z" fill="url(#gFun)"/>
<ellipse cx="183.90" cy="325.00" rx="22" ry="9.5" fill="#d6d9dd"/>
<ellipse cx="184.20" cy="325.20" rx="19.4" ry="7.4" fill="url(#gFunIn)"/>
<g clip-path="url(#paperClip)"><g transform="translate(173.8 304.6) skewY(-26.600)">
<path d="M4.8 -0.5 L25.5 -0.5 L25.5 34 L0 34 L0 4.6 Z" fill="#f8f8f9"/>
<path d="M0 4.6 L4.8 -0.5 L4.8 5.2 Z" fill="#c9ccd1"/>
<rect x="6.6" y="4.0" width="16.6" height="1.3" fill="#56565b"/>
<rect x="6.6" y="6.1" width="16.6" height="1.3" fill="#56565b"/>
<rect x="1.80" y="10.30" width="7.40" height="1.4" fill="#46464b"/>
<rect x="10.00" y="10.30" width="6.60" height="1.4" fill="#46464b"/>
<rect x="17.60" y="10.30" width="6.20" height="1.4" fill="#46464b"/>
<rect x="1.80" y="13.50" width="7.40" height="1.4" fill="#46464b"/>
<rect x="10.00" y="13.50" width="6.60" height="1.4" fill="#46464b"/>
<rect x="17.60" y="13.50" width="6.20" height="1.4" fill="#46464b"/>
<rect x="1.80" y="16.70" width="7.40" height="1.4" fill="#46464b"/>
<rect x="10.00" y="16.70" width="6.60" height="1.4" fill="#46464b"/>
<rect x="17.60" y="16.70" width="6.20" height="1.4" fill="#46464b"/>
<rect x="1.80" y="19.90" width="7.40" height="1.4" fill="#46464b"/>
<rect x="10.00" y="19.90" width="6.60" height="1.4" fill="#46464b"/>
<rect x="17.60" y="19.90" width="6.20" height="1.4" fill="#46464b"/>
<rect x="1.80" y="23.10" width="7.40" height="1.4" fill="#46464b"/>
<rect x="10.00" y="23.10" width="6.60" height="1.4" fill="#46464b"/>
<rect x="17.60" y="23.10" width="6.20" height="1.4" fill="#46464b"/>
<rect x="1.80" y="26.30" width="7.40" height="1.4" fill="#46464b"/>
<rect x="10.00" y="26.30" width="6.60" height="1.4" fill="#46464b"/>
<rect x="17.60" y="26.30" width="6.20" height="1.4" fill="#46464b"/>
<rect x="1.80" y="29.50" width="7.40" height="1.4" fill="#46464b"/>
<rect x="10.00" y="29.50" width="6.60" height="1.4" fill="#46464b"/>
<rect x="17.60" y="29.50" width="6.20" height="1.4" fill="#46464b"/>
<rect x="1.80" y="32.70" width="7.40" height="1.4" fill="#46464b"/>
<rect x="10.00" y="32.70" width="6.60" height="1.4" fill="#46464b"/>
<rect x="17.60" y="32.70" width="6.20" height="1.4" fill="#46464b"/>
</g></g>
<path d="M161.90 325.00 A22 9.5 0 0 0 205.90 325.00 L203.60 325.20 A19.4 7.4 0 0 1 164.80 325.20 Z" fill="#dcdee2"/>
</g>
<g filter="url(#txt)">
<text x="233.00" y="62.80" text-anchor="middle" class="lb">STORES</text>
<text x="763.20" y="62.80" text-anchor="middle" class="lb">CUSTOMERS</text>
<text x="232.00" y="492.80" text-anchor="middle" class="lb">PRODUCTS</text>
<text x="763.80" y="492.80" text-anchor="middle" class="lb">TIMES</text>
<text x="493.50" y="224.20" text-anchor="middle" class="lb">SALES</text>
</g>
</svg></body></html>
